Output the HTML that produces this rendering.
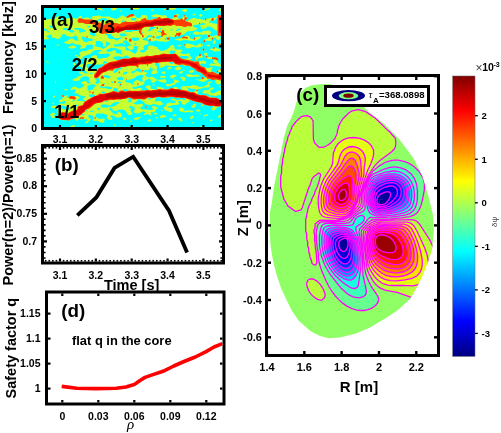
<!DOCTYPE html>
<html><head><meta charset="utf-8"><style>
html,body{margin:0;padding:0;background:#fff;}
svg{display:block;font-family:"Liberation Sans", sans-serif;will-change:transform;}
</style></head><body>
<svg width="501" height="433" viewBox="0 0 501 433">
<rect width="501" height="433" fill="#fff"/>
<defs><clipPath id="ca"><rect x="44" y="8" width="177" height="119"/></clipPath></defs>
<g clip-path="url(#ca)">
<rect x="44" y="8" width="177" height="119" fill="#00ffff"/>
<path d="M103.2 10.5 101.8 10.3 100.2 9.7 98.8 9.3 97.8 8.8 97.7 8.2 99.2 7.9 101.2 8.2 103.4 10.2 103.2 10.5ZM114.2 10.3 112.8 10.5 111.8 10.3 111.2 9.8 111.1 9.2 111.2 8.4 112.2 7.9 115.8 7.9 116.6 8.2 116.8 8.8 116.6 9.2 115.8 9.8 114.2 10.3ZM138.8 9.3 137.8 9.5 134.8 9.4 133.2 8.9 130.2 8.8 129.7 8.2 130.8 8.0 138.2 7.9 139.0 8.2 139.1 8.8 138.8 9.3ZM172.8 9.8 171.2 10.0 170.2 9.8 169.7 9.2 169.8 8.5 170.2 8.0 170.8 7.9 174.8 7.9 175.9 8.2 176.0 8.8 175.4 9.2 172.8 9.8ZM205.8 10.8 204.8 10.9 204.2 10.8 203.9 10.2 204.0 9.8 206.2 9.2 207.8 8.0 209.2 8.0 209.7 8.2 209.8 8.8 209.2 9.3 207.2 9.8 205.8 10.8ZM220.2 11.4 219.4 11.2 219.1 10.2 219.7 8.8 220.2 8.3 221.0 8.8 221.1 9.8 221.0 10.8 220.2 11.4ZM164.2 10.4 163.6 10.2 163.0 9.8 163.1 9.2 163.8 9.1 164.8 9.3 165.0 9.8 164.8 10.2 164.2 10.4ZM186.2 11.8 184.8 12.0 182.8 11.3 181.9 10.8 181.8 10.2 182.2 9.7 183.8 9.2 186.2 9.1 186.8 9.4 187.0 10.2 186.8 11.2 186.2 11.8ZM153.2 10.8 151.8 10.9 151.2 10.8 150.9 10.2 151.2 9.8 151.8 9.6 153.8 9.7 154.0 10.2 153.2 10.8ZM120.8 11.8 120.1 11.2 120.2 10.5 120.8 10.2 121.4 10.8 121.2 11.5 120.8 11.8ZM196.2 15.3 194.8 15.1 193.2 15.4 192.7 15.2 192.3 14.8 192.8 14.1 194.2 13.6 196.3 14.8 196.2 15.3ZM86.8 123.3 85.2 123.3 84.8 122.8 84.9 122.2 87.2 121.1 87.6 120.8 87.6 120.2 87.1 119.8 85.2 119.1 81.2 119.5 80.2 119.3 79.2 118.7 78.8 118.6 77.2 120.7 76.8 120.8 76.2 120.7 75.2 119.1 74.2 118.5 72.2 118.7 68.8 120.5 67.2 120.5 65.8 120.1 63.8 120.4 59.2 119.3 58.7 118.8 58.0 116.8 58.0 115.8 58.6 114.2 57.6 111.8 57.7 111.2 58.3 110.2 57.9 109.8 54.8 108.2 51.2 107.8 50.8 107.2 50.8 106.8 51.2 106.2 52.2 105.7 55.2 105.5 56.2 106.0 58.2 107.8 59.8 108.3 62.8 108.7 66.2 110.0 67.8 110.0 69.7 109.2 70.0 108.8 69.7 108.2 68.8 107.8 67.2 106.7 62.8 105.5 59.8 105.5 58.5 104.8 58.5 104.2 58.8 104.0 59.8 103.5 61.8 103.5 63.2 104.0 64.2 103.8 65.2 103.0 65.7 102.2 65.7 101.8 65.2 101.2 64.8 101.1 61.2 102.0 59.8 102.0 59.2 101.8 58.8 101.2 58.8 100.8 59.2 100.2 61.8 99.1 62.8 98.2 62.9 97.2 62.1 96.2 62.2 95.4 62.8 95.1 63.6 95.2 64.2 96.0 64.8 96.2 67.2 95.2 67.8 95.2 68.0 95.8 66.8 96.7 66.5 97.2 66.8 97.7 67.2 97.9 68.1 97.8 69.2 96.6 70.8 96.0 72.8 96.0 74.2 96.3 77.8 96.0 79.0 96.8 79.5 97.8 79.6 98.2 79.2 98.8 76.5 99.8 76.3 100.2 78.8 101.0 82.2 101.0 83.8 101.5 84.7 101.2 85.0 100.8 84.8 100.2 82.8 99.4 82.5 98.8 82.8 98.2 84.8 97.7 85.0 97.2 84.8 96.6 84.2 96.2 82.2 95.7 79.8 95.3 77.2 93.7 74.7 93.2 74.5 92.8 74.7 92.2 76.2 90.2 75.8 89.4 74.8 89.2 71.2 89.9 70.8 89.7 70.5 89.2 70.6 88.8 71.8 87.5 74.2 86.2 75.2 86.2 77.2 88.0 78.8 88.5 80.2 88.3 83.2 86.6 83.8 86.2 84.0 85.8 83.9 85.2 82.8 84.0 81.2 83.2 80.8 82.8 81.1 82.2 83.2 81.2 84.8 80.7 85.8 80.9 86.8 81.7 87.3 82.8 88.8 83.5 89.8 83.5 90.2 83.3 90.5 82.8 90.2 82.1 88.7 80.8 88.7 79.8 89.2 78.8 89.1 77.8 88.2 76.9 87.2 76.5 84.2 76.2 81.2 77.4 80.3 78.2 80.2 79.8 79.8 80.2 78.2 80.8 73.8 81.0 72.7 80.2 72.5 79.8 72.8 79.2 76.2 77.9 78.8 76.2 82.5 75.2 82.4 74.8 79.8 73.8 78.9 73.2 78.7 72.8 79.2 72.0 80.8 71.5 81.8 71.5 84.8 73.5 86.2 73.4 86.8 73.2 87.0 72.8 86.5 71.8 84.2 69.8 83.2 68.0 81.8 67.2 79.8 66.8 78.8 66.3 78.3 65.8 78.5 65.2 81.2 64.2 85.6 63.2 85.9 62.8 86.2 60.8 87.0 59.2 88.2 58.5 90.7 58.2 91.0 57.8 91.0 56.8 91.2 56.3 92.8 55.7 95.2 55.1 96.2 55.2 96.8 55.8 97.2 57.8 97.8 58.3 101.2 58.4 102.8 58.0 105.2 58.0 107.8 57.3 110.2 55.2 110.2 54.5 109.2 53.7 108.2 53.5 105.8 53.5 103.8 54.0 99.8 53.8 98.4 53.2 98.2 52.8 98.8 52.1 101.1 51.2 101.3 50.8 101.0 50.2 100.2 50.0 95.8 50.0 92.2 51.7 90.8 53.5 89.8 54.1 86.2 55.2 82.8 56.7 82.4 57.2 82.5 58.2 82.2 58.8 80.2 59.0 78.8 58.6 78.2 58.2 77.4 56.8 75.2 55.8 74.8 55.4 75.0 54.8 75.8 54.7 77.2 55.2 78.8 56.3 79.8 56.4 80.2 55.8 79.7 54.2 79.6 53.2 80.1 52.2 82.2 51.2 85.8 51.0 89.2 49.5 92.2 49.2 92.6 48.8 92.7 46.8 93.4 45.8 93.4 45.2 90.8 44.5 87.2 44.7 86.1 45.8 85.9 47.2 85.6 47.8 82.8 48.2 80.8 49.1 80.2 48.8 80.0 48.2 80.9 46.8 81.1 46.2 80.9 45.8 79.2 44.7 75.2 44.4 73.8 43.2 72.8 43.0 71.2 43.2 69.8 44.1 68.8 44.3 66.2 43.8 64.8 43.3 64.3 42.8 64.3 42.2 64.8 41.7 67.8 40.8 69.7 38.8 70.8 38.4 71.8 38.4 72.8 38.7 76.2 40.8 77.8 40.8 78.3 40.2 78.3 39.2 76.2 35.6 75.8 35.3 74.8 35.7 72.8 36.8 70.8 37.0 68.2 36.2 66.8 35.9 66.2 35.6 65.2 34.2 63.2 34.0 62.2 34.8 60.2 38.0 58.8 38.8 57.8 39.0 56.8 38.8 53.8 37.6 51.8 37.7 51.6 37.2 52.3 35.8 52.2 35.2 50.2 34.6 46.5 36.2 46.3 36.8 49.1 38.2 49.0 38.8 47.2 39.5 45.2 39.5 44.4 39.2 43.9 38.2 44.0 31.2 44.4 30.8 45.2 30.5 46.8 31.1 48.2 32.3 48.9 32.2 49.2 31.8 48.3 30.8 47.2 30.2 45.8 28.9 44.4 28.2 44.0 27.8 43.9 20.8 44.4 19.8 48.8 19.0 50.8 19.0 52.2 19.5 53.8 19.3 55.2 18.5 56.8 16.7 58.2 16.1 58.8 16.2 59.0 16.8 58.6 18.2 58.8 18.8 59.8 19.6 61.2 20.0 62.8 19.8 65.2 18.7 67.2 18.5 70.2 17.5 71.8 17.6 75.2 18.5 77.8 18.5 78.3 18.2 78.8 16.8 79.8 16.1 80.8 15.9 81.2 16.1 81.8 16.8 81.8 18.2 82.2 18.7 82.8 18.7 83.8 18.2 86.2 17.5 87.8 17.5 88.8 17.7 90.2 18.8 90.8 18.9 91.5 18.2 91.8 17.1 92.2 16.6 93.8 16.0 95.8 16.0 98.2 15.5 99.8 15.7 102.2 16.5 109.2 16.5 111.8 17.8 113.2 18.3 116.2 18.7 118.2 17.9 121.8 15.5 122.8 15.4 123.8 15.7 124.8 17.1 125.2 17.3 128.8 15.3 130.2 14.2 132.2 14.0 134.0 14.2 134.5 15.8 135.8 16.6 136.8 17.7 137.8 18.0 139.2 18.0 140.8 17.3 142.2 15.1 145.8 15.2 147.0 15.8 147.2 16.2 147.2 17.8 147.5 19.2 148.2 19.8 149.8 20.0 150.8 19.8 151.8 19.1 152.8 18.7 154.2 18.8 157.0 18.2 157.1 17.8 156.8 17.2 152.8 17.0 151.1 16.2 151.2 15.7 154.2 14.5 155.8 14.3 157.8 14.5 161.8 15.5 164.8 15.1 166.3 15.8 166.7 16.2 166.8 17.8 170.8 18.9 172.8 18.3 173.6 17.8 173.6 16.2 174.2 15.2 176.8 14.1 177.2 14.1 179.8 14.8 179.8 15.3 177.8 15.4 176.9 17.2 180.2 19.6 180.6 19.2 180.8 18.2 182.2 17.8 183.1 17.2 183.8 16.7 184.2 15.2 184.8 14.8 185.2 14.9 186.6 16.8 187.7 17.8 187.7 18.2 186.3 19.2 185.6 20.2 185.7 20.8 186.8 21.3 187.2 21.2 188.6 19.8 189.2 19.4 193.2 18.0 195.2 18.1 197.2 18.9 199.8 18.5 202.2 19.8 203.2 20.0 204.6 19.8 205.0 19.2 205.2 18.2 205.8 17.9 206.2 18.1 206.8 19.4 207.8 19.1 209.8 18.0 212.8 17.7 215.2 18.0 215.8 18.3 215.9 19.2 215.6 19.8 212.8 20.8 210.2 20.7 209.0 21.2 208.8 21.8 209.2 22.3 212.2 23.3 214.8 23.5 216.2 23.9 217.1 23.8 217.4 23.2 217.5 19.2 217.1 18.2 216.8 18.1 215.8 18.2 215.4 17.8 215.5 17.2 215.8 16.9 217.2 16.5 217.8 15.4 218.2 15.1 219.8 15.0 220.8 15.4 221.0 15.8 221.1 16.8 221.1 34.8 220.6 35.8 218.9 36.2 218.9 36.8 220.6 37.8 220.9 38.2 220.7 38.8 219.8 39.3 217.8 40.0 216.8 39.8 215.8 38.0 214.8 37.4 213.8 37.2 213.3 37.8 213.2 38.8 212.0 39.8 211.2 40.8 209.2 41.0 206.2 40.5 205.8 40.7 205.2 41.8 204.2 42.2 203.8 42.2 203.4 41.8 203.4 41.2 204.2 39.6 205.8 38.7 207.8 38.4 208.2 38.0 208.3 37.2 207.8 36.2 207.7 34.8 206.8 34.5 204.2 34.5 201.8 35.0 199.8 34.5 198.2 34.5 196.2 34.9 192.9 33.8 192.8 33.2 193.2 32.5 195.2 31.5 197.2 31.5 199.2 32.3 200.2 32.4 203.2 31.0 208.2 30.5 209.2 30.7 210.2 31.2 211.2 32.2 211.2 32.8 210.8 33.2 209.6 34.2 209.6 34.8 210.0 35.2 211.2 36.5 212.2 36.5 213.8 35.6 216.8 35.4 217.2 35.1 217.5 33.8 217.3 31.2 216.8 30.7 214.2 29.5 212.2 27.5 209.2 26.5 207.2 26.6 206.8 26.8 206.2 27.9 205.8 28.3 204.2 28.4 202.2 29.2 201.8 29.0 201.3 27.8 200.2 26.3 200.1 25.8 200.4 25.2 200.8 25.0 203.8 25.0 204.5 24.8 204.7 24.2 204.5 23.2 204.0 22.8 203.2 22.7 200.2 24.0 198.8 24.2 197.2 24.8 193.8 25.1 193.2 25.3 193.0 25.8 193.1 26.2 193.6 26.8 194.8 27.3 196.2 27.7 197.1 28.2 197.2 28.8 196.8 29.2 194.8 30.4 192.2 31.0 187.8 31.2 186.8 31.8 185.9 32.8 183.2 34.8 180.8 35.1 179.2 36.4 178.4 36.2 177.8 35.4 177.2 35.2 176.8 35.4 175.8 36.8 175.2 36.9 171.8 37.0 169.8 36.6 168.8 36.8 168.8 37.2 169.8 38.2 169.7 39.2 168.8 40.9 166.2 41.8 165.2 41.9 163.2 41.5 158.8 41.5 157.2 40.7 156.2 40.5 152.8 41.5 150.2 41.3 148.2 40.1 147.2 38.8 147.2 38.2 148.2 37.6 151.8 36.8 152.3 36.2 152.4 35.8 151.9 35.2 151.2 35.0 148.2 35.2 147.6 36.2 145.8 37.8 143.6 38.2 142.9 38.8 142.7 39.2 142.8 39.8 143.2 40.0 146.8 40.7 147.8 41.2 148.5 42.8 148.2 44.1 147.8 44.4 144.7 45.2 143.3 47.2 143.3 47.8 144.0 49.2 143.8 49.7 140.2 50.6 139.9 51.2 140.2 51.8 142.2 52.4 143.2 52.3 144.7 51.8 145.6 50.8 147.2 49.8 148.2 46.6 148.8 45.8 149.2 45.6 152.2 45.5 155.2 46.8 156.8 47.1 157.2 47.3 158.5 49.2 159.6 50.2 160.8 50.8 162.2 51.0 164.8 50.3 167.2 48.9 168.9 47.8 170.2 46.0 171.2 45.2 172.2 45.0 173.2 45.2 173.8 45.8 174.3 46.8 174.3 48.2 175.2 49.1 176.2 49.5 181.8 49.5 182.5 49.8 182.7 50.2 182.4 50.8 180.4 52.2 180.3 52.8 180.8 53.3 183.2 54.0 185.2 54.0 188.2 53.3 189.4 53.8 189.8 54.2 190.2 56.2 191.8 57.7 191.9 58.2 191.6 58.8 190.2 59.2 189.9 59.8 190.2 60.3 194.2 61.5 195.8 61.4 196.8 60.9 198.2 61.5 199.2 61.5 202.2 60.6 205.2 60.9 205.7 61.2 206.4 62.8 205.8 63.6 204.2 64.0 202.2 63.6 201.2 63.7 200.2 64.2 200.2 65.2 201.2 66.3 203.2 67.0 205.2 67.2 206.8 68.0 208.8 68.0 211.2 67.1 212.2 67.2 212.7 67.8 212.7 68.2 211.1 69.8 211.0 70.2 211.2 70.8 212.8 71.8 216.8 73.6 219.8 73.5 220.6 73.8 221.1 74.8 221.1 79.2 220.6 80.8 221.1 82.2 220.8 83.2 220.3 83.8 218.2 84.4 217.2 84.1 216.0 83.2 215.2 82.3 215.1 81.8 215.2 81.2 216.2 80.2 216.2 79.8 214.8 79.6 213.2 80.0 212.2 80.0 209.8 78.6 208.8 78.9 204.8 81.4 203.2 81.9 202.2 81.8 196.8 80.0 196.4 79.8 196.8 79.2 198.8 79.6 200.8 79.3 201.3 78.8 201.8 77.4 202.2 77.1 203.2 77.2 204.2 78.0 204.8 78.1 205.8 77.9 206.2 77.2 205.8 76.7 203.6 75.2 201.8 73.2 197.2 71.6 194.4 68.8 189.2 65.7 186.8 65.6 184.8 65.9 181.8 64.7 178.8 65.2 177.8 66.2 180.2 66.9 181.2 67.6 181.6 68.2 181.4 68.8 180.8 69.3 177.2 70.4 175.2 69.8 174.8 69.2 174.8 68.8 175.2 68.0 177.7 66.2 175.2 66.0 169.2 66.1 167.2 65.5 165.8 65.5 162.8 67.3 160.2 67.9 159.8 67.8 159.2 67.2 159.1 66.8 159.4 65.2 158.8 63.6 157.8 63.0 156.2 63.0 155.2 63.2 154.6 63.8 154.8 64.2 156.8 66.2 157.0 68.2 156.4 69.8 156.7 70.8 157.8 72.2 157.7 72.8 154.8 74.0 152.2 74.0 151.4 73.8 151.1 73.2 151.2 72.2 152.7 70.8 152.5 69.8 152.6 68.8 151.2 67.9 150.2 67.6 149.8 67.9 149.0 69.8 148.2 70.3 147.8 70.4 145.8 70.0 144.2 70.2 143.8 71.2 144.0 71.8 146.2 72.2 147.1 72.8 147.2 73.2 145.5 74.8 145.0 75.8 146.2 76.6 148.8 77.5 149.8 77.4 151.2 76.6 152.8 77.0 157.2 79.7 162.8 79.4 164.2 79.0 164.8 79.2 166.5 80.8 166.6 81.2 165.8 82.4 164.8 82.9 161.2 82.3 159.2 81.3 157.2 79.9 157.0 80.2 155.3 81.2 153.8 82.8 152.8 83.0 151.5 82.2 150.3 79.2 149.2 78.5 144.8 80.8 144.5 81.2 144.3 83.8 143.2 84.8 141.8 85.5 138.8 85.7 135.8 87.0 132.8 87.1 132.4 87.2 132.4 87.8 133.8 88.8 134.8 89.0 137.8 88.0 141.2 88.1 141.8 88.2 142.1 88.8 141.3 89.8 141.3 90.2 142.8 90.5 145.2 90.5 148.2 89.8 148.5 89.2 146.1 87.8 145.8 86.8 146.1 86.2 147.2 85.5 149.8 85.5 150.8 86.0 150.6 87.8 150.7 88.2 151.2 88.8 153.8 89.0 155.2 89.7 157.2 89.3 157.6 88.8 156.5 87.2 156.8 86.8 157.2 86.6 161.2 87.2 163.2 88.2 164.4 89.2 165.8 89.5 168.8 89.3 170.2 88.5 173.2 87.8 175.2 86.8 175.8 86.8 177.7 87.8 178.8 88.9 180.8 89.8 181.8 89.9 182.4 89.8 182.5 89.2 180.6 87.8 180.8 87.2 182.8 86.2 190.2 86.0 192.2 85.2 193.2 85.0 197.2 85.7 199.2 87.0 200.8 87.0 203.2 86.5 205.8 85.5 208.2 83.8 207.8 82.8 208.2 82.2 209.1 81.8 210.2 81.6 212.2 81.8 212.5 82.2 212.2 82.6 210.8 82.6 208.3 83.8 209.8 85.2 209.8 86.2 209.2 86.9 207.8 87.5 203.8 87.5 200.8 88.8 198.0 89.2 197.8 89.8 198.2 92.2 197.3 93.8 197.8 94.4 199.8 95.0 205.2 95.0 208.2 96.3 209.8 96.7 211.2 97.5 215.8 97.5 217.8 98.2 220.7 100.2 221.0 100.8 221.1 105.2 220.6 106.2 217.9 106.8 214.8 110.0 213.8 110.5 212.8 110.5 211.8 109.8 211.6 108.8 212.1 107.8 213.6 106.8 213.6 106.2 213.2 106.1 210.2 106.0 208.8 105.5 206.2 105.3 204.6 104.8 202.4 103.2 200.8 102.7 197.8 102.3 192.2 100.8 189.8 99.8 189.3 100.2 189.4 101.2 189.2 101.8 188.2 102.3 186.8 102.7 185.9 104.2 184.8 104.8 184.2 104.8 182.2 104.2 181.8 103.8 181.9 102.2 181.2 101.4 180.2 101.0 178.8 101.0 178.2 101.2 178.0 101.8 179.2 103.2 179.2 103.8 178.8 104.3 176.8 105.0 173.2 105.0 170.2 106.0 167.4 106.2 167.2 106.8 167.8 107.3 171.8 108.2 172.6 108.8 172.7 109.2 172.2 111.6 171.8 111.9 170.2 112.0 165.2 110.3 164.0 108.8 163.6 107.8 163.8 107.2 165.8 105.9 166.7 103.8 167.2 103.2 169.8 102.5 172.2 103.0 173.8 103.0 175.2 102.4 175.9 101.8 175.8 101.2 175.2 100.7 172.8 100.5 171.2 99.9 170.8 99.2 171.2 98.8 172.2 98.5 174.2 98.5 176.2 99.8 177.2 100.0 181.8 99.2 184.8 100.1 185.5 99.8 185.5 99.2 184.8 98.5 183.8 98.1 181.2 98.1 178.8 97.5 176.8 97.8 173.2 97.1 170.2 97.0 168.2 97.8 167.2 98.0 165.2 97.5 161.2 97.5 159.2 97.0 157.2 97.0 156.2 97.7 155.8 98.8 154.7 100.2 154.8 101.2 155.2 101.6 155.8 101.6 158.8 101.0 160.2 101.1 162.8 103.2 162.8 104.2 162.2 104.8 159.2 105.4 154.2 104.0 152.8 104.2 150.8 105.0 147.8 104.8 144.8 103.8 144.1 102.2 143.8 101.9 141.6 100.8 140.1 99.2 138.8 99.1 138.2 99.4 137.2 101.0 133.8 103.2 133.8 103.8 136.2 104.5 137.2 104.5 141.2 103.7 142.3 103.8 143.0 104.8 142.8 106.1 140.1 107.8 140.1 108.2 141.0 108.8 143.8 109.5 146.8 109.5 148.8 110.0 151.8 110.0 152.3 109.8 152.7 109.2 152.6 108.2 151.8 106.8 152.0 106.2 152.8 106.0 156.2 106.7 157.8 107.2 158.2 107.8 158.1 108.2 156.2 109.2 155.8 109.7 155.3 111.2 154.8 111.9 151.2 112.2 150.7 112.8 150.6 113.2 151.5 114.8 151.2 115.2 150.2 115.4 147.8 114.1 146.8 114.2 145.2 114.9 144.2 115.1 143.9 114.8 143.8 114.2 145.2 112.8 145.3 112.2 143.8 111.5 141.8 111.7 140.2 112.8 137.8 113.5 136.8 113.5 134.6 112.8 133.9 112.2 133.8 111.8 134.5 109.8 134.7 107.8 134.2 107.2 131.2 106.0 129.8 106.1 129.3 106.2 129.0 106.8 129.2 107.3 130.8 108.2 131.0 108.8 130.3 110.2 130.3 110.8 132.2 112.8 132.3 113.2 131.8 114.6 130.8 115.0 128.8 115.0 127.8 114.5 125.9 111.2 124.8 110.2 122.2 109.5 119.2 109.5 117.8 110.2 116.8 111.1 114.8 111.0 113.3 110.2 112.2 109.0 110.8 108.0 110.2 107.8 109.8 107.9 109.1 108.8 109.5 109.8 111.4 111.2 112.8 113.0 113.8 113.8 115.8 114.0 117.2 113.8 117.7 113.2 117.8 112.2 118.2 112.0 119.2 112.2 120.4 112.8 121.5 113.8 122.0 114.8 122.0 115.8 121.5 116.8 120.2 117.5 116.2 117.5 115.2 117.1 113.2 115.4 111.8 115.2 110.4 115.8 110.2 116.2 110.4 116.8 112.2 118.2 112.4 119.2 111.8 119.9 110.2 120.0 108.8 119.4 106.8 118.2 106.7 117.2 107.5 115.8 107.2 115.2 105.2 114.2 102.8 113.5 97.2 113.5 96.4 113.8 96.1 114.2 95.6 116.2 95.8 116.8 97.8 118.3 98.8 118.8 99.8 119.0 103.8 118.6 104.3 118.8 104.7 119.2 104.7 119.8 104.1 121.2 104.1 122.2 103.7 122.8 102.8 122.9 100.2 122.3 97.2 120.7 94.8 121.0 93.6 120.8 93.0 120.2 92.9 119.8 93.9 117.8 93.8 116.8 93.5 116.2 92.8 115.7 91.2 115.2 88.8 115.1 88.1 115.8 88.4 116.8 89.0 117.8 90.4 118.8 90.7 119.2 90.7 119.8 90.2 120.3 88.7 121.2 87.9 122.8 86.8 123.3ZM201.2 16.8 200.2 16.8 199.2 15.8 199.3 14.8 200.2 14.2 201.2 14.1 202.3 14.8 202.4 15.2 202.2 16.1 201.2 16.8ZM139.8 15.5 139.5 15.2 139.7 14.8 140.2 14.6 140.2 15.2 139.8 15.5ZM103.0 21.2 107.2 20.2 107.5 19.8 107.4 19.2 106.8 18.7 104.8 18.0 102.2 18.0 95.9 20.8 96.1 21.2 96.8 21.4 99.2 21.0 100.8 21.0 102.2 21.4 103.0 21.2ZM134.9 20.2 136.3 19.2 136.2 18.2 135.8 18.0 132.2 18.0 131.4 18.2 131.1 18.8 131.3 19.8 132.2 20.3 133.8 20.5 134.9 20.2ZM72.4 19.8 72.5 19.2 71.5 19.2 71.6 19.8 72.4 19.8ZM195.9 20.2 196.1 19.8 195.0 19.8 195.1 20.2 195.9 20.2ZM115.9 21.8 116.3 21.2 116.2 20.8 115.8 20.4 115.2 20.6 115.1 21.2 115.6 21.8 115.9 21.8ZM124.5 21.8 124.8 21.2 124.2 20.6 122.8 20.6 122.2 20.8 121.9 21.2 122.0 21.8 122.8 22.0 124.5 21.8ZM56.4 27.8 56.5 27.2 55.8 26.7 53.8 26.3 51.2 25.6 50.2 25.7 49.4 26.2 49.3 26.8 49.7 27.2 50.2 27.4 53.2 28.0 56.4 27.8ZM90.0 27.2 90.1 26.8 89.8 26.2 89.2 26.1 87.8 26.1 87.2 26.8 87.8 27.4 89.2 27.5 90.0 27.2ZM149.9 31.2 150.7 30.8 151.8 29.2 155.8 28.3 156.0 27.8 155.2 27.2 152.8 26.5 150.8 26.7 150.2 27.2 149.7 28.8 148.2 30.2 148.1 30.8 148.6 31.2 149.2 31.4 149.9 31.2ZM185.9 27.8 186.2 27.2 185.8 27.0 184.5 27.2 184.8 27.8 185.9 27.8ZM74.1 32.2 74.4 31.8 74.3 31.2 73.4 30.2 70.8 29.8 69.2 28.7 67.8 28.2 64.2 28.1 63.2 28.8 63.1 29.2 63.4 29.8 67.2 30.2 68.2 30.8 69.8 32.3 72.8 32.5 74.1 32.2ZM82.0 32.2 85.2 31.2 85.5 30.8 85.3 30.2 80.2 28.0 75.2 28.1 74.7 28.2 74.3 28.8 74.8 29.4 77.8 29.5 78.8 29.7 79.1 30.2 79.1 31.8 79.8 32.4 81.2 32.5 82.0 32.2ZM160.8 29.2 161.5 28.8 161.4 28.2 160.8 28.1 159.8 28.2 159.8 28.8 160.2 29.2 160.8 29.2ZM178.0 30.8 180.3 29.8 180.7 29.2 180.5 28.8 179.8 28.5 178.2 28.7 177.1 29.2 176.0 30.2 176.2 30.8 177.2 30.9 178.0 30.8ZM172.6 30.2 172.6 29.8 171.8 29.2 171.2 29.2 170.3 29.8 170.8 30.4 172.6 30.2ZM130.5 31.8 133.8 30.9 138.2 30.9 138.6 30.2 138.2 29.8 137.8 29.8 136.8 30.1 134.8 30.1 132.2 29.6 127.8 30.5 125.8 30.1 124.8 30.2 124.8 30.5 125.0 31.2 126.2 31.9 129.2 32.0 130.5 31.8ZM160.3 32.2 161.5 31.8 161.6 31.2 161.2 30.8 159.8 30.9 158.8 30.5 157.8 30.8 157.7 31.2 158.2 31.8 160.3 32.2ZM95.2 35.8 95.5 35.2 94.8 32.8 93.8 31.8 91.8 31.2 90.8 31.7 90.2 32.2 89.6 33.8 89.7 34.2 90.2 34.8 93.2 36.0 95.2 35.8ZM142.7 32.8 142.8 32.2 142.6 31.8 141.8 31.5 141.3 31.8 141.3 32.2 141.8 32.9 142.2 33.0 142.7 32.8ZM117.4 40.2 120.8 38.5 121.1 38.2 121.2 37.5 120.8 37.2 118.2 38.0 114.8 38.3 113.4 36.8 111.7 35.8 111.3 35.2 111.2 34.2 110.8 33.7 108.8 34.0 107.2 34.0 105.8 33.6 104.9 33.8 105.0 34.2 106.8 35.1 107.5 35.8 108.2 37.8 109.2 38.6 110.2 39.0 113.8 39.1 116.2 40.4 117.4 40.2ZM124.0 36.2 126.2 35.8 126.7 35.2 126.7 34.8 126.2 34.2 124.8 33.5 120.8 33.5 120.2 33.6 119.8 34.0 119.8 34.8 121.2 36.6 124.0 36.2ZM190.2 34.8 189.6 34.8 189.4 34.2 189.8 33.8 191.1 33.8 191.1 34.2 190.2 34.8ZM76.3 34.2 76.3 34.2ZM158.8 38.8 160.9 37.2 160.8 35.7 160.2 35.5 159.2 35.7 155.8 36.8 155.5 37.2 155.6 37.8 156.1 38.2 157.2 38.8 158.2 38.9 158.8 38.8ZM194.8 40.8 191.8 41.0 190.2 40.5 188.2 40.5 186.8 40.1 185.2 40.3 183.2 40.0 180.2 41.0 179.2 40.8 177.2 40.0 174.8 40.3 174.5 39.8 175.2 39.2 178.8 38.2 181.8 37.9 182.8 36.7 184.2 36.4 185.3 35.8 186.2 35.5 187.8 35.7 188.8 36.1 190.3 38.2 191.2 38.8 192.2 39.1 192.8 39.0 193.9 37.8 195.2 37.6 197.2 36.7 199.8 36.5 200.2 36.6 200.8 37.0 200.8 37.8 199.8 38.8 197.8 39.8 194.8 40.8ZM86.4 42.2 88.8 41.2 92.2 40.8 92.9 40.2 93.0 39.8 92.7 39.2 91.8 38.7 88.2 38.3 82.8 36.4 82.2 36.4 81.8 36.8 81.7 37.8 83.5 41.2 85.2 42.3 86.4 42.2ZM166.4 39.8 167.0 38.2 167.8 37.4 168.2 37.2 167.8 36.9 166.2 37.2 165.2 38.2 165.1 38.8 165.2 39.5 165.8 39.9 166.4 39.8ZM136.5 40.8 138.2 40.3 138.8 39.8 139.0 38.2 138.4 37.8 137.2 37.5 133.2 37.5 132.2 37.7 131.5 38.2 131.4 38.8 132.2 40.3 134.8 41.0 136.5 40.8ZM210.8 38.8 211.0 38.2 210.8 38.1 210.5 38.2 210.8 38.8ZM135.0 53.8 135.8 53.2 137.2 50.8 137.3 49.2 138.2 47.8 138.2 47.2 137.8 46.7 136.2 46.1 135.2 45.9 134.2 46.0 133.6 46.8 133.9 48.2 133.3 49.2 131.2 50.0 130.2 50.0 126.7 47.2 126.7 46.8 127.8 46.2 129.9 45.8 130.6 45.2 130.7 44.8 130.0 43.8 126.2 40.2 125.2 40.2 123.8 41.0 123.3 41.8 123.2 43.2 121.8 43.0 116.8 44.5 114.2 44.6 113.8 45.2 114.2 46.2 115.2 46.6 124.2 46.5 125.4 46.8 125.9 47.2 125.6 48.2 125.7 49.2 126.2 50.2 127.2 50.5 129.8 50.5 131.8 52.3 134.2 53.6 135.0 53.8ZM103.3 48.8 104.4 48.2 107.8 45.7 109.8 44.6 110.3 43.8 110.2 43.2 109.2 42.7 106.8 41.7 106.0 41.8 105.6 42.2 106.0 44.2 105.8 45.5 105.2 46.2 103.8 46.8 103.2 46.7 102.9 46.2 103.0 43.8 102.5 42.8 101.8 42.1 100.2 41.2 98.2 40.7 95.9 41.2 95.6 41.8 96.1 43.8 95.8 44.4 94.6 45.2 94.8 45.8 96.8 46.8 101.2 47.6 102.8 48.7 103.3 48.8ZM214.8 43.8 213.2 43.9 212.8 43.2 213.5 40.8 215.2 40.3 215.8 40.4 215.8 40.8 215.3 43.2 214.8 43.8ZM124.8 44.5 124.1 44.2 123.3 43.2 123.8 43.0 124.8 43.2 125.2 43.8 125.1 44.2 124.8 44.5ZM135.5 44.8 136.3 44.2 136.5 43.8 136.2 43.2 135.2 43.2 134.4 43.8 134.2 44.2 134.5 44.8 134.8 44.9 135.5 44.8ZM189.2 48.3 187.2 48.5 185.8 47.8 185.2 47.2 184.3 45.2 184.3 44.8 184.8 44.3 185.8 44.0 186.8 43.3 187.2 43.2 193.2 44.7 194.8 45.5 197.2 45.3 198.8 44.0 199.8 43.5 201.8 43.6 202.2 43.8 202.8 44.8 202.8 45.8 202.4 46.2 200.2 47.3 196.8 47.5 194.8 47.0 193.2 47.0 189.2 48.3ZM219.8 45.3 219.0 45.2 218.6 44.8 218.8 43.9 219.2 43.6 220.2 43.6 220.9 44.2 220.7 44.8 219.8 45.3ZM58.2 45.8 57.2 45.8 56.8 45.3 56.6 44.8 57.0 44.2 57.8 44.2 58.9 44.8 59.0 45.2 58.2 45.8ZM209.2 46.4 207.8 46.5 206.8 46.3 206.3 45.8 206.4 45.2 207.8 44.5 209.7 44.8 210.1 45.2 210.0 45.8 209.2 46.4ZM180.2 46.3 179.2 46.4 177.5 46.2 177.6 45.8 179.2 45.2 180.2 45.1 181.1 45.2 181.3 45.8 180.2 46.3ZM74.2 48.3 71.2 48.5 68.8 47.9 68.4 47.2 68.8 46.7 70.2 46.2 72.2 45.5 73.2 45.5 75.2 46.2 76.2 46.8 76.3 47.2 75.9 47.8 74.2 48.3ZM218.8 51.3 214.2 51.5 213.7 51.2 212.2 50.2 210.2 49.8 210.0 49.2 210.2 48.8 210.8 48.6 212.8 48.7 213.2 47.5 213.8 47.1 214.2 47.2 215.8 48.1 217.2 48.2 218.8 48.7 220.3 49.8 220.5 50.2 220.2 50.8 218.8 51.3ZM44.8 49.8 44.2 49.7 43.9 48.8 44.2 48.0 44.8 47.9 45.2 48.2 45.4 48.8 45.3 49.2 44.8 49.8ZM121.8 54.8 122.5 54.2 122.4 53.8 121.0 53.2 121.4 51.2 121.2 50.2 120.2 49.7 115.2 48.1 110.8 48.0 106.8 49.7 106.3 50.2 106.6 51.2 107.2 51.8 108.8 52.0 109.8 51.8 113.8 50.2 115.2 50.1 115.7 50.8 115.6 52.2 115.9 52.8 117.8 53.5 120.2 53.6 121.0 54.8 121.8 54.8ZM203.2 51.3 202.6 50.8 202.5 49.8 202.9 48.8 203.8 48.2 204.4 48.8 204.4 50.2 204.2 50.8 203.8 51.2 203.2 51.3ZM153.8 51.2 153.9 50.8 153.8 50.6 153.2 50.5 152.7 50.8 153.0 51.2 153.8 51.2ZM173.4 53.8 175.7 51.8 175.6 51.2 174.2 50.7 173.2 50.5 170.8 50.6 170.2 50.9 169.8 53.2 170.0 53.8 171.8 54.0 173.4 53.8ZM220.2 66.4 217.2 66.5 214.8 65.5 211.8 66.1 210.8 65.9 209.7 65.2 209.3 64.8 209.5 64.2 211.4 63.2 212.2 63.3 213.2 63.9 214.5 63.8 214.7 63.2 213.2 61.9 212.9 61.2 213.2 60.5 214.6 59.8 214.4 59.2 212.8 59.3 211.2 59.0 208.2 59.0 206.8 58.3 206.2 57.8 205.9 55.8 204.8 55.2 204.2 54.4 204.1 53.8 204.2 53.2 204.8 52.7 205.8 52.6 207.2 53.2 207.4 53.8 207.7 56.2 208.2 56.9 211.8 57.0 213.8 57.5 215.8 57.4 217.2 58.0 218.2 59.2 218.2 59.8 217.2 60.8 217.2 61.2 217.8 62.4 220.7 64.8 221.0 65.2 221.0 65.8 220.2 66.4ZM196.8 60.5 195.8 59.9 195.4 59.2 195.9 57.2 196.8 56.4 198.6 55.8 199.2 54.2 199.8 53.8 200.2 53.8 200.8 54.2 201.4 55.8 202.8 56.3 203.0 56.8 202.8 57.2 200.8 58.0 197.8 58.2 197.4 58.8 197.2 59.8 196.8 60.5ZM119.0 59.8 123.8 58.5 128.8 58.4 129.3 58.2 129.6 57.8 127.8 55.8 126.8 55.5 125.8 55.7 122.8 56.9 120.8 56.5 115.2 56.5 112.9 57.2 112.7 57.8 113.1 58.2 114.2 58.7 116.2 60.1 117.2 60.2 119.0 59.8ZM185.0 58.8 188.2 58.3 188.7 57.8 188.7 57.2 188.2 56.5 187.2 56.0 180.8 56.0 179.3 56.2 179.4 56.8 181.1 58.2 182.1 58.8 183.8 59.0 185.0 58.8ZM95.8 60.8 95.8 60.2 95.2 60.2 95.2 60.8 95.8 60.8ZM45.2 61.1 44.7 60.8 45.6 60.8 45.2 61.1ZM48.2 62.9 47.2 62.8 45.4 61.2 45.8 60.9 48.2 61.7 48.8 62.2 48.7 62.8 48.2 62.9ZM96.8 70.2 98.8 68.2 101.8 66.8 103.2 65.8 103.6 64.2 104.1 63.8 106.4 63.2 107.2 62.8 107.1 62.2 105.2 61.2 104.2 61.1 103.8 61.4 103.2 63.1 102.8 63.8 100.8 64.5 94.8 64.5 92.8 64.0 90.2 64.0 87.8 64.1 87.2 64.2 86.7 64.8 86.4 66.2 86.9 67.2 87.8 68.1 88.8 68.5 91.2 68.7 94.8 70.5 96.8 70.2ZM172.8 63.8 173.4 63.2 173.6 62.8 173.4 62.2 172.8 61.8 168.8 62.2 168.8 62.8 170.8 63.8 171.8 64.0 172.8 63.8ZM75.2 65.3 74.2 65.6 73.2 65.1 73.1 63.2 73.2 62.7 73.8 62.3 74.2 62.4 75.7 64.2 75.7 64.8 75.2 65.3ZM74.2 70.0 73.8 70.1 72.8 69.8 72.4 69.2 72.4 68.8 73.0 67.2 74.2 66.5 75.2 66.9 75.9 67.8 75.5 68.8 74.2 70.0ZM114.9 72.8 117.2 71.8 118.0 71.2 118.4 70.8 118.4 69.8 118.8 69.2 119.8 69.8 120.2 69.8 122.5 67.8 122.4 67.2 121.2 67.1 118.8 68.0 115.2 68.7 114.5 70.2 113.3 71.8 113.3 72.2 113.8 72.8 114.9 72.8ZM169.2 69.3 168.2 69.4 167.7 69.2 167.2 68.8 167.1 68.2 167.3 67.8 168.8 67.0 170.2 66.9 171.2 67.2 171.7 67.8 171.6 68.2 170.8 68.8 169.2 69.3ZM132.9 73.2 134.8 72.3 136.1 71.2 136.8 71.1 138.8 71.7 140.2 72.4 141.2 72.3 142.1 71.8 141.4 70.2 140.2 69.0 138.8 68.2 137.8 68.2 136.2 69.0 134.8 70.6 132.2 71.2 131.6 71.8 131.3 72.8 131.7 73.2 132.2 73.4 132.9 73.2ZM126.8 69.2 126.8 68.7 125.5 68.8 125.8 69.3 126.8 69.2ZM217.8 72.3 217.2 72.2 216.8 71.8 216.8 71.2 217.2 70.8 218.2 70.3 220.2 68.7 220.8 68.8 221.0 69.2 221.1 70.2 221.0 71.2 220.8 71.6 220.2 71.9 218.8 71.9 217.8 72.3ZM155.2 69.8 154.8 69.2 154.2 69.3 154.1 69.8 154.2 69.9 155.2 69.8ZM184.2 70.8 183.2 70.9 183.1 70.8 183.2 70.0 183.8 69.6 185.1 69.8 185.3 70.2 184.2 70.8ZM191.8 72.8 190.8 73.0 189.8 72.8 188.9 71.8 188.7 71.2 188.8 70.8 190.8 70.0 192.8 70.0 193.8 70.2 194.2 70.8 193.9 71.8 193.2 72.3 191.8 72.8ZM164.8 73.9 163.8 73.8 162.2 73.3 161.6 72.8 161.7 72.2 162.2 71.7 163.8 71.2 164.8 71.4 165.2 71.9 165.5 72.8 165.2 73.6 164.8 73.9ZM181.8 73.3 179.8 73.4 179.2 73.0 179.2 72.2 180.2 71.5 181.8 71.0 182.8 71.0 183.0 71.2 182.9 72.2 182.7 72.8 181.8 73.3ZM125.5 74.2 127.3 73.2 127.5 72.8 127.3 72.2 126.2 71.7 125.2 71.7 124.1 72.2 123.1 73.2 122.9 73.8 123.1 74.2 123.8 74.6 125.5 74.2ZM92.5 73.8 92.8 73.2 92.2 72.6 90.8 72.6 90.3 72.8 90.0 73.2 90.3 73.8 90.8 73.9 92.5 73.8ZM197.8 76.8 196.8 76.9 194.8 76.5 192.8 77.0 188.8 77.0 186.8 76.3 186.1 75.8 186.0 75.2 186.3 74.8 186.8 74.5 189.2 74.0 193.2 75.0 194.2 75.0 196.2 74.5 200.1 75.2 200.3 75.8 199.8 76.2 197.8 76.8ZM172.8 78.4 172.2 78.5 170.8 77.8 170.4 77.2 170.1 76.2 170.8 75.4 174.2 74.5 175.2 74.7 176.6 75.8 176.6 76.2 176.2 76.5 175.2 76.7 172.8 78.4ZM108.9 78.2 110.6 77.2 110.7 76.8 110.2 76.2 106.2 75.0 104.2 75.2 103.6 75.8 103.5 76.2 103.8 76.8 104.8 77.3 107.8 78.3 108.9 78.2ZM134.0 84.8 133.2 83.2 133.3 82.8 134.0 81.8 135.8 80.2 136.8 80.0 138.2 80.2 141.2 81.8 141.8 81.8 142.8 81.2 143.0 80.8 142.1 78.8 142.2 78.2 143.7 76.2 143.7 75.8 142.8 75.2 141.2 74.9 138.8 75.2 136.2 76.6 134.8 77.8 132.8 78.8 130.8 79.2 127.2 80.3 125.8 80.1 125.2 80.3 124.9 80.8 125.2 81.7 125.8 82.0 127.2 82.5 129.2 82.7 131.8 83.7 133.2 85.2 133.8 85.1 134.0 84.8ZM150.2 75.8 149.7 75.8 149.7 75.2 150.3 75.2 150.2 75.8ZM164.8 78.0 161.2 77.8 160.0 77.2 159.8 76.8 160.2 76.2 160.8 76.1 165.2 76.1 165.7 76.8 165.2 77.7 164.8 78.0ZM120.0 80.2 122.8 79.9 123.2 79.5 123.3 78.8 122.8 77.8 121.8 76.7 120.8 76.7 117.0 77.8 116.8 78.2 116.9 78.8 117.7 79.8 119.2 80.3 120.0 80.2ZM184.2 81.3 183.8 81.3 182.8 80.8 181.8 78.8 180.2 77.8 180.3 77.2 181.8 76.6 185.3 77.8 185.7 78.2 185.8 78.8 184.9 80.8 184.2 81.3ZM97.8 83.8 99.5 82.2 99.9 81.2 98.8 78.6 98.2 78.1 97.8 78.0 95.2 78.8 95.5 79.2 96.2 79.7 96.7 80.2 96.5 81.2 95.3 82.8 95.4 83.2 96.8 84.0 97.8 83.8ZM171.8 80.0 171.4 79.8 171.8 79.4 172.0 79.8 171.8 80.0ZM169.2 86.3 167.8 86.5 166.8 86.3 166.2 85.8 165.9 84.8 166.2 84.2 166.8 84.1 170.2 84.0 173.8 82.8 174.2 82.2 174.2 81.8 173.8 80.8 173.8 80.2 174.2 79.8 174.8 79.6 176.2 79.7 179.2 81.2 179.3 81.8 178.8 82.3 176.2 82.8 174.8 84.8 172.2 85.1 171.1 85.8 169.2 86.3ZM56.2 83.4 55.8 83.6 55.3 83.2 55.1 82.8 55.1 81.2 55.8 80.4 56.3 80.8 56.0 81.8 56.2 83.4ZM113.6 82.8 113.7 82.2 113.2 81.7 112.2 81.2 111.2 81.2 111.0 81.8 111.2 82.2 111.8 82.8 112.8 83.1 113.6 82.8ZM121.3 83.2 121.3 82.2 120.2 81.5 118.8 81.5 118.2 81.8 118.0 82.2 118.2 82.9 119.2 83.6 120.8 83.6 121.3 83.2ZM185.8 82.6 185.8 82.2 185.8 82.6ZM104.9 84.2 105.1 83.8 104.8 83.3 103.6 83.2 103.4 83.8 104.9 84.2ZM154.2 85.4 152.8 85.4 152.4 84.8 152.8 84.2 153.8 84.2 154.6 84.8 154.6 85.2 154.2 85.4ZM90.0 90.2 91.8 89.8 92.9 89.2 93.3 88.8 93.9 87.2 96.0 86.2 96.2 85.8 95.8 85.2 93.8 84.5 90.8 84.5 87.8 85.7 87.4 86.2 87.6 89.8 88.2 90.4 90.0 90.2ZM121.7 86.2 122.1 85.8 121.8 85.0 120.8 85.4 119.8 85.1 119.2 85.3 119.1 85.8 119.2 86.2 119.8 86.4 121.7 86.2ZM110.4 89.2 111.8 88.8 112.1 88.2 111.8 87.6 110.8 87.0 106.8 86.5 105.2 86.6 103.8 87.0 100.8 86.1 100.2 86.2 99.7 86.8 99.9 87.2 100.2 87.4 104.8 88.0 108.2 89.0 110.4 89.2ZM220.2 87.4 219.2 87.2 218.9 86.8 219.0 86.2 219.8 86.0 220.6 86.2 220.9 86.8 220.2 87.4ZM216.8 95.8 214.2 96.0 212.2 95.5 210.8 95.5 209.2 94.9 207.8 93.8 207.2 93.5 203.2 93.4 202.5 92.8 202.4 91.8 203.2 90.8 204.8 90.2 208.2 90.0 209.1 89.8 209.7 88.2 210.2 87.7 212.8 87.6 213.3 87.8 213.7 88.2 213.7 88.8 213.3 89.2 212.2 89.8 210.8 90.2 210.2 90.8 210.2 91.8 211.2 92.8 212.8 93.3 213.8 93.3 215.8 92.3 217.2 91.2 218.8 90.5 220.2 90.6 221.0 91.2 221.1 93.8 220.8 94.6 220.2 94.9 217.8 95.2 216.8 95.8ZM118.6 91.8 118.7 91.2 117.8 89.2 117.2 88.7 116.2 88.2 114.8 88.0 113.8 88.2 113.4 88.8 113.6 90.2 114.2 91.0 117.8 92.1 118.2 92.1 118.6 91.8ZM193.8 91.8 196.0 90.2 196.4 89.8 196.3 89.2 190.8 88.6 189.8 88.1 189.2 88.1 188.2 88.5 187.8 89.2 187.7 89.8 188.2 90.9 189.8 91.8 192.8 92.0 193.8 91.8ZM67.2 90.3 65.2 90.4 64.7 90.2 64.4 89.8 64.8 89.1 66.8 89.0 67.5 89.2 67.6 89.8 67.2 90.3ZM127.0 91.2 128.2 90.8 128.6 90.2 128.2 89.7 126.2 89.0 123.8 89.2 122.7 89.8 122.5 90.2 123.2 90.8 125.2 91.5 127.0 91.2ZM44.8 91.6 44.1 91.2 44.1 90.8 44.8 90.4 45.2 90.8 45.2 91.2 44.8 91.6ZM104.0 93.8 105.2 93.2 105.5 92.8 105.3 92.2 103.8 91.5 102.0 91.8 101.7 92.2 102.3 93.2 103.2 93.9 104.0 93.8ZM92.4 97.2 95.1 95.8 95.2 95.2 93.2 94.5 90.2 94.2 89.8 94.3 89.2 94.7 89.2 95.8 90.8 97.6 91.2 97.7 92.4 97.2ZM54.8 97.3 53.8 97.4 53.2 97.3 52.8 96.8 52.9 96.2 53.8 95.7 54.8 95.7 55.2 96.2 55.2 96.8 54.8 97.3ZM130.4 102.2 131.8 100.2 131.8 99.2 131.5 98.8 130.8 98.2 129.2 97.6 128.2 97.7 127.0 98.2 127.0 98.8 129.4 99.2 129.5 99.8 127.9 100.8 127.9 101.2 129.8 102.4 130.2 102.5 130.4 102.2ZM149.7 99.8 150.5 99.2 150.8 98.8 150.8 98.2 149.8 97.7 148.8 97.7 148.2 98.2 148.2 99.1 148.8 99.6 149.7 99.8ZM121.0 100.2 121.3 99.8 119.4 99.8 119.8 100.3 121.0 100.2ZM73.9 101.2 74.7 100.8 74.8 100.2 73.2 100.1 72.0 100.8 72.2 101.3 73.9 101.2ZM106.9 101.8 107.2 101.2 106.8 100.6 105.2 100.6 104.8 100.8 104.5 101.2 104.8 101.8 105.8 102.1 106.2 102.1 106.9 101.8ZM108.3 107.2 109.2 106.8 110.2 107.0 115.6 105.8 116.8 104.2 118.8 103.2 119.1 102.8 119.0 102.2 118.2 102.0 116.2 102.0 114.2 102.7 112.7 103.2 110.8 105.0 109.8 105.5 108.8 105.5 105.8 104.5 102.8 104.5 101.2 104.9 100.6 105.8 100.7 106.2 101.2 106.8 103.2 107.5 107.2 107.5 108.3 107.2ZM53.8 103.9 52.8 103.9 52.4 103.2 52.8 102.7 53.8 102.7 54.1 103.2 53.8 103.9ZM193.8 107.8 192.8 107.8 191.8 107.3 191.2 106.8 191.2 106.0 193.2 104.8 194.2 103.7 195.8 103.6 196.2 104.2 195.3 106.8 194.8 107.3 193.8 107.8ZM45.2 105.3 44.6 105.2 44.4 104.8 45.2 104.7 45.2 105.3ZM77.5 106.2 77.7 105.8 77.4 105.2 76.2 104.6 75.2 104.7 73.7 105.2 73.7 105.8 75.2 106.3 76.8 106.5 77.5 106.2ZM202.8 106.3 201.8 106.3 201.2 105.8 201.1 105.2 201.4 104.8 202.2 104.5 203.2 104.7 203.4 105.2 203.3 105.8 202.8 106.3ZM146.2 107.7 145.8 107.7 145.3 107.2 145.3 106.8 145.8 106.3 146.2 106.3 146.7 106.8 146.7 107.2 146.2 107.7ZM99.9 109.8 100.4 109.2 100.3 108.8 99.2 107.7 97.8 107.7 96.8 108.8 97.0 109.2 98.2 109.8 99.2 109.9 99.9 109.8ZM192.8 112.3 191.2 112.5 189.2 112.0 187.8 112.0 184.8 112.5 183.2 111.9 182.2 111.9 180.2 111.4 179.6 110.8 179.4 108.2 179.8 107.7 180.8 107.5 183.2 108.2 184.2 108.7 184.5 109.2 183.7 110.8 183.9 111.2 186.2 110.5 191.8 110.5 193.1 111.2 193.2 111.8 192.8 112.3ZM161.8 111.3 161.2 111.2 160.8 110.8 160.9 110.2 161.8 109.7 162.2 109.8 162.8 110.2 162.8 110.6 161.8 111.3ZM199.8 111.3 198.8 111.7 197.8 111.5 196.2 110.9 196.0 110.2 197.2 109.5 199.8 109.6 200.4 110.2 200.3 110.8 199.8 111.3ZM87.9 111.2 87.9 110.8 87.2 110.2 86.1 110.2 86.0 110.8 86.7 111.2 87.9 111.2ZM93.0 111.8 93.3 111.2 92.8 110.6 89.3 111.2 89.8 111.8 92.2 112.0 93.0 111.8ZM56.2 117.8 52.8 118.0 51.9 117.8 51.2 116.2 50.2 115.2 50.2 114.2 50.8 113.7 52.8 112.7 54.2 112.7 54.8 113.2 54.9 113.8 54.2 115.2 54.2 116.1 55.2 116.9 56.4 117.2 56.5 117.8 56.2 117.8ZM156.2 114.8 155.2 114.8 154.2 114.4 153.8 113.8 154.2 113.1 154.8 112.8 156.8 113.2 157.2 113.8 157.1 114.2 156.2 114.8ZM200.2 114.3 199.6 113.8 199.8 113.1 200.2 113.2 200.8 113.8 200.6 114.2 200.2 114.3ZM83.8 115.2 84.3 114.8 84.1 114.2 83.8 114.1 82.2 114.2 81.7 114.8 81.7 115.2 82.2 115.4 83.8 115.2ZM125.2 114.6 125.1 114.2 125.2 114.1 125.4 114.2 125.2 114.6ZM175.2 116.3 174.2 116.3 173.2 115.9 172.9 115.8 172.9 115.2 174.2 114.2 175.8 114.2 176.4 114.8 176.5 115.2 176.2 115.8 175.2 116.3ZM204.8 116.3 203.8 116.2 203.5 115.8 203.8 115.2 207.2 114.2 207.8 114.3 208.3 114.8 208.1 115.2 207.8 115.4 204.8 116.3ZM162.8 117.8 160.2 117.9 159.8 117.2 160.2 116.2 160.8 115.6 163.2 114.6 165.8 115.7 166.3 116.2 166.1 116.8 165.8 116.9 162.8 117.8ZM219.2 117.8 218.8 117.9 218.2 117.5 218.1 116.8 218.2 116.2 219.2 115.2 220.2 114.8 220.8 115.0 221.1 115.8 221.0 116.8 220.6 117.2 219.2 117.8ZM191.2 118.8 190.2 118.8 189.8 118.2 190.1 117.2 191.8 116.1 192.8 115.7 193.2 115.8 193.8 116.2 193.8 117.3 192.8 118.3 191.2 118.8ZM137.8 119.8 136.8 120.0 135.8 119.8 133.8 119.2 133.7 118.8 134.2 118.2 135.2 117.7 138.2 117.0 139.8 117.0 140.8 116.7 142.2 116.7 141.6 117.2 140.2 117.5 137.8 119.8ZM157.8 118.4 156.1 118.2 155.1 117.8 155.2 117.2 156.2 117.1 157.2 117.2 158.1 117.8 158.1 118.2 157.8 118.4ZM125.8 119.8 124.8 120.0 123.8 119.8 122.7 118.8 122.8 118.0 123.8 117.5 125.8 117.7 126.3 118.2 126.4 118.8 126.3 119.2 125.8 119.8ZM182.2 121.4 181.8 121.6 180.8 121.4 178.8 120.0 178.3 119.2 178.2 118.8 178.8 117.8 179.8 117.5 180.8 117.8 182.3 120.2 182.5 120.8 182.2 121.4ZM171.8 120.8 170.8 120.9 169.5 120.2 169.1 119.2 169.2 118.8 169.7 118.2 171.2 118.0 172.4 118.8 172.7 119.8 171.8 120.8ZM204.2 119.3 203.7 119.2 203.1 118.8 203.2 118.2 203.8 118.3 204.6 118.8 204.6 119.2 204.2 119.3ZM150.8 121.3 149.8 121.5 147.8 121.4 147.4 121.2 147.4 120.8 149.2 119.2 150.2 119.1 151.2 119.7 151.4 120.2 151.3 120.8 150.8 121.3ZM211.2 121.3 210.8 121.3 209.9 120.8 209.8 120.2 210.2 119.7 211.8 119.6 212.2 120.1 212.1 120.8 211.2 121.3ZM131.2 121.8 130.2 121.8 129.9 121.2 130.0 120.8 130.8 120.6 131.5 120.8 131.6 121.2 131.2 121.8ZM120.2 121.8 118.8 121.8 118.5 121.8 118.6 121.2 120.2 121.2 120.2 121.8ZM193.2 123.3 192.2 123.2 192.0 122.8 192.2 122.3 192.8 122.1 193.6 122.2 193.8 122.8 193.2 123.3ZM115.2 125.8 114.8 125.9 114.0 125.8 113.7 125.2 113.9 124.8 114.8 124.2 115.5 124.2 115.9 124.8 115.8 125.2 115.2 125.8ZM74.2 126.8 73.2 127.1 71.2 127.1 70.4 126.8 70.4 126.2 71.2 125.7 72.8 125.2 74.2 125.1 74.8 125.2 75.2 125.8 74.2 126.8ZM78.2 125.8 77.4 125.8 77.5 125.2 78.5 125.2 78.2 125.8ZM130.8 126.9 129.9 126.8 130.1 126.2 130.9 126.2 131.1 126.8 130.8 126.9ZM201.8 127.0 200.8 127.0 200.4 126.8 200.4 126.2 201.2 125.9 201.8 126.0 202.1 126.2 202.1 126.8 201.8 127.0ZM209.8 126.8 208.8 126.8 209.2 126.2 209.8 126.2 209.8 126.8Z" fill="#c8ff32" fill-rule="evenodd"/>
<path d="M127.8 17.8 126.5 17.8 126.2 17.2 126.4 16.8 130.2 14.2 132.8 14.0 134.0 14.2 134.2 14.8 134.1 15.2 133.2 16.3 130.2 16.7 127.8 17.8ZM139.8 15.5 139.5 15.2 139.7 14.8 140.2 14.6 140.1 15.2 139.8 15.5ZM196.2 15.3 195.7 15.2 195.7 14.8 196.3 14.8 196.2 15.3ZM175.2 17.3 174.2 17.3 173.8 16.8 173.8 15.7 174.8 15.0 176.8 15.2 177.2 15.8 177.2 16.2 176.8 16.8 175.2 17.3ZM143.2 37.3 142.8 37.4 142.2 37.0 142.0 35.2 140.5 34.2 139.0 32.2 138.8 31.2 139.2 30.2 139.2 29.8 138.8 29.5 136.2 30.0 134.2 30.0 131.8 29.5 129.8 30.0 124.8 30.0 121.8 31.3 120.2 31.6 118.8 32.7 118.2 32.8 116.8 32.2 115.8 32.1 112.8 32.9 111.2 32.5 109.8 32.5 107.2 33.5 104.2 33.5 102.8 34.0 101.8 34.0 99.8 32.9 98.7 31.8 97.3 28.8 97.6 26.8 97.4 26.2 96.8 25.7 94.8 24.7 91.2 24.0 85.8 24.0 83.2 23.0 81.8 22.8 79.2 23.0 78.2 22.5 77.8 21.8 77.5 20.2 78.5 18.8 79.8 18.1 80.8 18.2 84.2 19.5 92.2 19.5 94.8 20.7 96.2 22.3 97.2 22.7 99.2 22.5 100.2 22.7 102.2 24.8 103.2 24.9 105.2 24.3 109.2 22.5 111.2 22.5 112.8 23.0 115.8 23.0 119.8 23.9 120.8 23.5 122.2 22.2 124.2 21.9 125.8 21.3 127.2 22.0 128.2 22.0 134.2 22.0 136.2 21.3 138.2 21.5 140.8 20.8 141.2 19.7 145.2 17.7 145.8 17.7 145.8 18.8 146.0 19.2 148.8 20.0 151.8 19.8 154.8 18.7 156.8 18.4 158.2 17.2 159.2 17.0 160.1 17.2 161.2 18.4 163.2 18.5 165.2 18.0 167.8 18.0 171.2 19.3 174.2 20.0 176.2 20.0 178.2 19.5 180.2 19.6 180.6 19.2 180.8 18.4 181.2 18.2 181.8 18.3 183.8 20.4 184.2 20.2 184.2 19.2 184.6 18.2 184.7 16.8 184.1 15.8 184.3 15.2 184.8 14.8 185.2 14.9 185.5 15.2 184.9 16.8 185.8 17.3 187.6 17.8 187.6 18.2 186.2 19.3 185.1 20.8 185.8 21.3 190.8 22.7 191.5 23.2 192.0 24.2 192.0 25.8 191.2 26.4 190.2 26.5 188.2 26.1 184.8 27.0 183.2 26.8 181.2 26.0 179.2 26.0 177.8 25.6 176.2 26.2 175.2 25.1 174.2 24.7 171.2 25.8 170.2 26.0 167.2 25.5 163.8 26.0 161.8 25.7 160.2 25.9 158.8 25.5 155.8 25.5 154.8 25.7 152.8 26.5 145.2 26.7 142.8 27.8 141.9 29.2 141.2 31.2 141.2 32.2 142.3 33.8 142.5 34.8 143.6 35.8 143.9 36.2 143.8 36.8 143.2 37.3ZM220.2 35.9 218.2 35.9 217.8 35.6 217.5 34.8 217.5 16.2 217.9 15.2 218.8 15.0 220.6 15.2 221.1 16.2 221.1 34.8 220.8 35.6 220.2 35.9ZM206.2 21.0 205.8 20.6 205.1 19.2 205.2 18.3 205.8 17.9 206.3 18.2 206.1 19.8 206.5 20.8 206.2 21.0ZM212.8 20.8 211.7 20.8 211.3 20.2 211.2 19.8 211.8 18.6 212.8 17.8 213.6 18.2 213.9 19.2 213.7 20.2 212.8 20.8ZM199.8 24.0 199.2 23.8 198.9 23.2 199.2 22.7 199.8 22.8 200.2 23.2 200.1 23.8 199.8 24.0ZM157.8 28.9 157.0 28.8 156.6 28.2 156.6 27.2 157.2 26.8 157.8 27.2 158.2 28.2 157.8 28.9ZM205.8 27.9 205.1 27.8 205.8 27.9ZM162.2 36.8 161.3 36.8 161.0 36.2 161.9 34.2 160.8 32.8 161.0 32.2 161.8 31.6 162.2 30.2 162.8 29.8 163.2 29.7 163.8 30.2 164.4 32.8 164.8 33.2 166.2 33.7 166.6 34.2 166.2 34.9 164.8 34.7 163.8 34.9 162.2 36.8ZM159.8 30.6 159.6 30.2 159.8 30.1 159.9 30.2 159.8 30.6ZM155.8 33.1 155.2 32.8 155.8 32.2 156.1 32.8 155.8 33.1ZM175.8 36.8 175.0 36.8 174.6 36.2 174.8 35.7 175.7 34.8 176.2 33.3 180.2 32.6 181.4 32.8 181.4 33.2 179.6 36.2 178.8 36.4 178.4 36.2 177.8 35.3 177.2 35.0 176.7 35.2 176.3 36.2 175.8 36.8ZM209.8 36.9 208.8 37.2 208.1 36.8 207.8 35.8 208.2 35.1 209.2 34.8 209.9 35.2 210.2 36.2 209.8 36.9ZM147.2 36.4 146.7 36.2 147.2 35.8 147.2 36.4ZM153.8 37.8 152.5 37.2 152.3 36.8 152.8 36.2 153.8 36.2 154.6 36.8 154.7 37.2 154.2 37.7 153.8 37.8ZM87.2 37.7 86.8 37.7 86.3 37.2 86.3 36.8 86.8 36.3 87.2 36.3 87.7 36.8 87.7 37.2 87.2 37.7ZM186.8 38.8 185.2 38.2 182.8 38.4 182.2 38.0 182.2 37.2 182.8 36.7 183.8 36.5 187.2 37.1 187.8 37.5 187.8 38.2 187.2 38.7 186.8 38.8ZM126.2 39.4 125.4 39.2 125.1 38.8 125.2 38.0 125.8 37.6 126.8 38.1 127.0 38.8 126.8 39.2 126.2 39.4ZM168.8 39.8 167.8 39.8 166.9 39.2 166.8 38.8 167.1 38.2 168.2 37.4 169.2 37.6 169.8 38.2 169.7 39.2 168.8 39.8ZM194.8 39.4 194.2 39.7 193.5 39.2 193.5 38.2 194.2 37.6 194.8 37.7 195.2 38.2 195.2 38.8 194.8 39.4ZM212.8 39.3 211.8 39.4 211.3 38.8 211.6 38.2 212.2 37.7 213.0 37.8 213.4 38.2 213.3 38.8 212.8 39.3ZM130.8 41.8 129.8 41.8 129.1 40.8 129.2 39.2 129.8 38.7 130.2 38.6 131.2 38.9 131.7 39.8 131.3 41.2 130.8 41.8ZM150.2 40.9 149.4 40.8 149.1 40.2 149.2 39.4 149.8 39.1 150.6 39.2 150.9 39.8 150.8 40.6 150.2 40.9ZM160.8 40.4 160.8 40.2 160.8 40.4ZM204.2 42.3 203.8 42.2 203.4 41.8 203.4 41.2 203.8 40.4 204.8 40.1 205.2 40.4 205.5 41.2 205.2 41.8 204.2 42.3ZM219.8 45.3 219.0 45.2 218.6 44.8 218.8 43.9 219.2 43.6 220.2 43.6 220.9 44.2 220.7 44.8 219.8 45.3ZM201.8 44.9 201.4 44.8 201.4 44.2 201.8 43.9 202.3 44.2 202.1 44.8 201.8 44.9ZM185.2 45.7 184.8 45.7 184.3 45.2 184.3 44.8 184.8 44.3 185.2 44.3 185.7 44.8 185.7 45.2 185.2 45.7ZM214.8 48.4 214.2 48.7 213.8 48.7 213.2 48.2 213.2 47.5 213.8 47.1 214.2 47.2 214.8 47.8 214.8 48.4ZM204.2 50.3 203.8 50.7 203.2 50.7 202.7 50.2 202.7 49.2 203.2 48.4 203.8 48.2 204.4 48.8 204.2 50.3ZM220.2 80.4 216.2 79.5 212.2 80.0 209.8 78.6 207.8 78.9 207.2 78.6 206.2 77.0 203.6 75.2 201.9 73.2 200.8 72.7 197.2 71.6 194.4 68.8 191.8 67.3 189.8 65.9 186.2 65.5 183.2 64.5 181.8 64.5 179.8 65.0 177.8 64.8 175.2 63.9 173.2 62.0 172.2 61.7 170.8 62.0 162.8 62.0 157.8 63.0 155.8 63.0 153.8 62.6 151.2 63.8 148.1 64.2 148.2 65.2 147.8 65.8 147.1 65.8 146.8 64.3 139.8 64.5 138.6 65.2 138.4 65.8 138.5 67.2 138.2 67.5 137.2 67.3 136.2 66.3 135.2 66.0 128.8 66.0 124.8 67.0 121.2 67.0 118.8 68.0 114.8 68.7 113.8 69.2 113.2 70.6 112.8 70.8 111.2 70.4 108.8 70.5 105.8 71.8 102.8 72.7 100.8 74.5 98.5 77.2 96.8 78.3 95.2 78.3 94.3 77.8 94.1 77.2 94.0 75.8 94.2 74.8 94.7 73.8 96.2 71.9 98.6 68.2 101.8 66.9 104.2 64.7 109.2 62.2 112.2 61.5 114.8 61.3 119.2 59.7 123.8 58.5 128.8 58.5 133.8 57.0 137.8 57.5 141.8 56.5 144.2 56.5 146.8 55.6 148.8 56.0 151.2 56.0 155.8 55.0 158.2 55.0 160.8 54.2 163.8 53.5 166.8 54.0 171.8 54.0 174.8 53.5 175.8 53.7 176.2 54.0 178.8 56.5 181.2 58.3 182.2 58.8 184.8 59.5 187.8 59.7 194.8 61.8 195.8 61.8 196.8 61.3 198.4 61.8 198.9 62.2 199.0 63.2 200.5 65.8 201.2 66.3 204.2 67.2 204.8 67.5 207.2 71.2 208.8 72.1 209.8 72.4 210.9 71.8 211.8 71.7 213.8 72.2 216.8 73.8 220.6 74.8 221.1 75.8 221.1 79.2 220.8 80.1 220.2 80.4ZM200.8 55.8 200.2 56.2 199.8 56.2 199.2 55.8 199.1 54.8 199.2 54.2 199.8 53.8 200.2 53.8 200.8 54.2 200.9 55.2 200.8 55.8ZM206.8 57.8 206.2 57.5 206.1 56.8 206.2 56.2 206.7 55.8 207.2 55.7 207.5 56.2 207.4 57.2 206.8 57.8ZM217.2 60.3 214.2 59.0 212.8 59.2 212.2 59.0 211.8 57.8 212.2 57.3 213.8 57.5 215.2 57.3 216.8 57.7 217.8 58.5 218.2 59.2 218.2 59.8 217.8 60.2 217.2 60.3ZM220.2 70.3 219.8 69.8 219.8 69.2 220.2 68.7 220.8 68.8 221.0 69.8 220.8 70.2 220.2 70.3ZM119.2 69.8 118.8 70.1 118.4 69.8 118.8 69.2 119.2 69.8ZM153.2 70.1 152.8 70.1 152.6 69.8 152.8 69.4 153.2 69.2 153.6 69.8 153.2 70.1ZM143.2 71.4 142.2 71.2 141.9 70.8 142.1 70.2 142.8 70.1 143.3 70.2 143.6 70.8 143.2 71.4ZM217.8 72.2 217.2 72.2 216.8 71.8 216.8 71.2 217.2 70.8 217.8 70.8 218.2 71.2 218.2 71.8 217.8 72.2ZM119.2 72.9 118.8 72.7 118.5 72.2 118.8 71.8 119.2 71.6 119.8 71.8 120.0 72.2 119.8 72.7 119.2 72.9ZM150.2 75.8 149.7 75.8 149.7 75.2 150.3 75.2 150.2 75.8ZM103.2 78.8 101.3 78.8 100.8 78.2 100.7 77.8 101.1 76.8 101.7 75.8 102.2 75.5 103.2 76.1 104.2 77.8 104.1 78.2 103.2 78.8ZM176.2 76.3 176.1 76.2 176.2 75.9 176.4 76.2 176.2 76.3ZM202.8 79.3 202.2 79.2 201.8 78.8 201.6 78.2 201.8 77.4 202.2 77.1 203.2 77.2 203.8 77.8 203.9 78.2 203.7 78.8 202.8 79.3ZM127.2 79.8 126.8 79.9 126.3 79.2 126.2 78.7 126.8 78.8 127.2 79.8ZM171.8 80.0 171.4 79.8 171.8 79.5 172.0 79.8 171.8 80.0ZM115.2 82.9 114.4 82.8 114.1 82.2 114.2 81.4 114.8 81.1 115.6 81.2 115.9 81.8 115.8 82.6 115.2 82.9ZM212.2 82.4 212.1 82.2 212.2 82.1 212.4 82.2 212.2 82.4ZM138.2 84.7 137.8 84.7 137.3 84.2 137.3 83.8 137.8 83.3 138.2 83.3 138.7 83.8 138.7 84.2 138.2 84.7ZM103.8 85.8 102.2 86.1 101.4 85.8 101.3 85.2 102.2 84.2 103.8 84.1 104.4 84.8 104.3 85.2 103.8 85.8ZM120.8 85.3 120.0 84.8 120.0 84.2 120.2 83.9 120.8 83.8 121.3 84.2 121.2 85.0 120.8 85.3ZM69.2 120.3 67.8 120.5 65.8 120.0 62.2 120.0 60.0 119.2 59.1 118.8 58.4 117.8 58.0 116.8 58.2 115.2 59.6 113.2 61.8 112.2 63.8 112.0 67.2 113.3 67.8 113.2 69.2 112.2 72.2 110.7 74.2 110.0 76.8 109.8 77.4 108.8 77.4 107.2 78.2 106.2 79.8 105.7 82.2 105.3 82.8 104.8 84.2 102.1 85.2 101.2 86.2 100.8 87.8 99.7 93.8 96.4 97.2 95.3 99.2 93.7 100.8 93.5 102.2 94.0 103.2 94.0 105.8 93.2 107.8 93.0 110.2 92.3 113.2 91.0 114.8 91.2 117.8 92.3 118.2 92.2 118.8 91.9 119.8 90.7 120.8 90.5 122.2 90.5 125.8 91.5 129.8 90.5 132.2 91.0 135.2 90.7 138.2 91.0 140.8 90.5 145.2 90.5 147.2 90.0 148.8 90.0 150.8 90.4 152.2 90.0 155.2 90.0 158.8 89.0 160.2 89.0 162.2 89.5 168.2 89.5 170.2 88.5 171.8 88.1 174.8 89.0 178.8 89.0 181.2 90.0 186.2 90.5 190.2 92.0 193.8 92.2 195.2 92.7 196.3 93.8 197.2 94.3 199.8 95.0 205.8 95.2 209.8 97.5 216.2 97.7 217.8 98.2 220.2 99.9 220.8 100.3 221.1 101.2 221.1 105.2 220.8 106.1 219.8 106.5 215.8 106.5 213.8 106.0 210.2 106.0 208.8 105.5 206.2 105.3 204.8 104.8 202.2 103.2 200.2 102.5 197.8 102.3 192.2 100.8 189.8 99.7 184.8 98.0 180.8 98.0 178.8 97.5 176.8 97.8 172.8 97.0 169.8 97.0 167.8 97.5 165.8 97.5 161.8 97.5 159.8 97.0 157.8 97.0 152.2 98.3 149.2 97.5 148.2 97.5 147.7 97.8 146.2 98.8 144.8 99.5 142.8 99.5 140.8 99.0 138.2 99.0 134.2 99.5 132.8 99.3 129.9 97.8 128.8 97.6 126.8 98.2 125.2 99.0 122.8 99.0 121.2 99.5 116.2 99.5 114.2 100.0 110.2 100.0 107.8 100.5 105.2 100.5 102.2 102.3 96.8 103.2 94.6 104.2 89.2 108.7 87.2 109.2 86.2 109.7 85.7 110.2 84.8 111.9 83.2 112.8 81.2 114.8 75.4 118.2 72.2 118.7 69.2 120.3ZM197.8 90.8 197.2 91.2 196.8 91.2 196.1 90.8 196.2 90.2 196.8 89.7 197.2 89.6 197.8 90.0 197.8 90.8ZM90.8 92.3 90.2 92.7 89.8 92.7 89.3 92.2 89.3 91.8 89.8 91.3 90.2 91.3 90.7 91.8 90.8 92.3ZM92.8 93.8 92.2 93.6 91.9 92.8 92.2 92.2 93.8 91.4 93.9 91.8 93.8 92.8 93.2 93.6 92.8 93.8ZM63.2 96.9 62.4 96.8 62.1 96.2 62.2 95.4 62.8 95.1 63.6 95.2 63.9 95.8 63.8 96.6 63.2 96.9ZM75.2 99.4 74.2 99.7 72.8 99.0 70.2 98.8 69.2 98.2 68.8 97.8 68.8 97.2 69.2 96.7 70.8 96.0 73.8 96.2 74.9 96.8 75.8 97.8 75.8 98.8 75.2 99.4ZM107.2 102.6 107.1 102.2 107.2 102.1 107.4 102.2 107.2 102.6ZM146.2 107.7 145.8 107.7 145.3 107.2 145.3 106.8 145.8 106.3 146.2 106.3 146.7 106.8 146.7 107.2 146.2 107.7ZM104.8 108.3 104.2 108.2 104.8 108.3ZM125.2 114.6 125.1 114.2 125.2 114.2 125.4 114.2 125.2 114.6ZM83.2 118.8 81.8 118.5 80.2 118.9 79.8 118.7 79.5 118.2 79.8 117.7 80.8 117.2 83.2 117.1 83.8 117.4 84.0 118.2 83.8 118.7 83.2 118.8ZM95.2 118.8 94.6 118.8 94.3 118.2 94.8 117.6 95.2 117.3 95.8 117.3 95.9 117.8 95.8 118.2 95.2 118.8Z" fill="#ff3c00" fill-rule="evenodd"/>
<path d="M220.2 32.9 219.4 32.8 219.0 31.8 219.0 18.2 219.2 17.4 219.8 17.1 220.6 17.2 221.1 18.2 221.1 31.8 220.8 32.6 220.2 32.9ZM118.2 32.8 116.8 32.2 115.8 32.1 112.8 32.9 110.2 32.5 108.2 33.0 107.8 32.8 107.5 32.2 107.1 30.2 107.2 29.8 107.8 29.0 108.8 28.5 111.8 29.0 114.8 28.3 115.9 27.8 117.2 26.3 117.8 26.1 120.2 27.0 122.8 27.0 127.8 25.0 130.2 24.5 132.2 24.5 138.8 23.0 143.2 22.5 146.2 21.5 147.8 21.5 149.8 21.9 155.2 20.0 158.8 20.0 164.8 18.5 168.8 18.5 172.2 19.7 173.2 20.3 174.0 21.8 173.9 22.8 173.2 23.6 171.8 24.3 169.2 25.0 166.8 25.0 163.8 25.8 161.8 25.5 155.8 25.5 154.8 25.7 152.8 26.5 145.8 26.5 143.2 27.5 141.8 28.6 140.2 29.3 138.8 29.4 136.2 30.0 134.2 30.0 131.8 29.5 129.8 30.0 124.8 30.0 121.8 31.3 120.2 31.6 118.8 32.7 118.2 32.8ZM96.8 77.3 95.7 77.2 95.2 76.8 95.1 75.8 95.2 75.2 96.3 73.8 98.0 70.2 99.8 68.7 101.2 68.3 103.2 67.3 105.6 65.2 109.8 62.7 114.8 62.3 118.2 61.3 120.2 60.2 124.2 59.0 125.8 59.0 127.8 59.4 131.8 58.2 133.8 57.8 138.8 58.9 141.8 57.7 144.2 57.3 146.2 56.5 152.2 56.5 156.2 55.5 159.2 55.5 161.2 54.7 164.2 54.2 166.8 54.5 173.2 54.5 175.2 54.3 176.5 55.2 179.8 59.2 181.2 60.1 182.2 60.5 186.2 60.7 192.2 62.8 196.2 63.7 199.2 66.8 202.8 68.2 203.5 68.8 205.2 70.6 207.2 73.8 206.8 73.9 204.2 73.3 201.8 71.9 200.2 71.3 196.8 68.2 192.8 66.8 190.4 64.8 189.2 64.2 186.8 63.5 184.2 63.5 182.2 63.0 179.8 63.5 176.2 63.5 175.7 63.2 174.2 61.5 173.2 60.9 166.2 61.0 164.2 61.5 159.2 61.5 156.2 62.4 154.2 62.0 152.8 62.0 150.2 63.0 147.8 63.0 144.2 63.9 142.2 63.5 139.2 63.5 136.2 65.0 129.8 65.0 127.2 65.8 124.2 66.5 121.2 66.5 118.8 67.5 115.2 67.7 110.2 69.3 107.8 69.7 105.8 71.3 102.2 72.2 100.1 73.8 98.8 75.5 96.8 77.3ZM220.8 78.8 220.2 79.0 218.2 78.8 214.2 77.1 212.2 77.5 209.2 77.3 207.7 75.8 207.2 73.9 215.2 75.5 218.2 75.5 220.2 75.1 220.8 75.4 221.1 76.2 221.1 78.2 220.8 78.8ZM69.2 119.3 67.2 119.5 62.2 119.3 60.8 118.8 59.5 117.8 58.7 116.8 58.7 115.8 59.5 114.2 61.2 113.2 64.2 113.0 66.8 114.0 68.2 113.9 70.2 112.2 72.8 111.2 75.8 111.0 77.2 110.3 78.3 109.2 78.6 107.2 78.9 106.8 82.8 105.8 85.2 102.5 89.2 99.7 94.2 96.7 96.2 96.0 98.8 95.8 100.8 94.6 103.8 94.5 112.8 92.0 115.2 92.0 117.2 92.8 118.2 93.0 119.2 92.8 120.8 91.7 121.8 91.5 125.8 92.0 129.2 91.2 131.2 91.5 143.2 91.5 146.8 90.5 151.2 91.0 153.2 90.5 156.8 90.5 158.8 90.0 160.8 90.0 162.8 90.5 167.2 90.5 169.8 89.8 171.2 89.2 172.8 89.0 175.8 89.8 177.8 89.6 181.2 90.5 185.2 91.0 190.2 93.0 192.8 92.8 193.8 93.0 195.8 94.3 197.2 94.8 199.2 95.2 201.2 95.8 203.2 95.6 205.8 96.2 208.8 97.8 210.2 98.3 212.8 98.0 215.8 98.2 217.2 98.7 220.2 100.2 220.8 100.8 221.1 101.8 221.1 104.8 220.6 105.8 219.8 106.0 215.8 106.0 212.8 105.1 210.2 105.5 206.2 104.8 204.2 103.8 202.2 102.5 200.8 102.0 198.2 101.8 185.2 97.5 181.8 97.5 179.8 97.0 175.8 97.0 172.2 96.0 167.2 96.0 165.2 96.8 164.2 97.0 162.2 97.0 158.8 96.2 152.8 97.5 151.2 97.5 149.8 97.0 147.8 97.0 144.8 98.3 143.8 98.5 134.2 98.5 131.8 97.8 130.2 97.2 128.8 97.0 126.2 97.7 124.8 98.3 121.8 99.0 115.2 99.0 113.2 99.3 110.2 98.6 107.8 99.8 103.8 100.2 102.2 101.5 101.2 102.0 98.8 102.5 96.2 102.5 94.8 103.1 93.2 104.0 91.2 105.8 88.8 107.2 87.8 108.3 85.2 109.5 80.8 114.3 78.8 115.2 76.2 116.9 74.2 117.8 72.2 118.2 69.2 119.3Z" fill="#e40000" fill-rule="evenodd"/>
<path d="M113.2 32.3 110.2 32.4 109.7 32.2 109.3 31.8 109.3 31.2 109.8 30.7 111.8 30.2 114.8 30.0 117.2 29.5 120.8 28.2 123.8 28.0 126.8 27.0 128.8 27.0 137.8 24.5 140.8 24.5 142.8 24.8 144.8 24.3 146.8 23.5 149.8 23.5 157.2 21.5 161.2 21.5 162.8 21.0 165.2 21.0 166.8 20.5 171.8 20.6 172.3 20.8 172.7 21.2 172.7 21.8 172.2 22.3 167.2 23.5 161.8 23.5 159.8 24.0 155.2 24.0 153.2 24.8 150.8 25.5 148.8 25.5 147.2 26.0 144.2 26.0 141.8 26.7 138.8 27.8 135.8 28.5 132.8 28.5 128.8 29.5 125.2 29.5 120.8 31.0 117.2 31.0 113.2 32.3ZM114.2 66.3 112.8 66.4 112.2 66.1 112.0 65.2 112.4 64.2 114.8 64.0 117.8 63.0 121.8 62.5 125.2 61.5 128.2 61.5 132.8 60.5 139.2 60.5 143.2 59.5 145.8 59.5 148.8 58.5 153.8 58.5 157.2 57.5 163.2 57.5 165.8 57.0 170.2 57.0 171.2 57.1 171.9 57.8 171.8 58.6 170.8 59.0 167.2 59.0 165.2 59.5 158.2 59.5 151.2 61.0 145.8 61.0 142.2 62.0 139.8 61.5 134.2 63.0 132.2 63.0 130.2 63.5 125.8 63.5 122.2 64.2 118.2 65.8 115.2 66.0 114.2 66.3ZM218.2 104.3 213.8 103.0 210.2 103.0 207.8 102.5 204.8 101.2 201.2 100.3 199.8 99.7 196.8 98.9 194.2 99.0 191.8 98.3 190.2 97.7 183.8 96.0 180.8 96.0 179.2 95.5 176.8 95.5 175.2 95.0 166.8 95.0 164.2 95.5 157.8 95.5 155.2 96.0 148.2 96.0 145.8 96.5 134.8 96.5 132.8 96.9 131.2 96.5 127.8 96.5 123.2 97.5 116.8 97.5 114.8 98.0 108.8 98.0 106.8 98.4 106.1 97.8 106.0 95.8 106.4 94.8 109.2 94.0 119.2 94.0 122.8 93.0 132.8 93.0 134.8 92.5 136.2 92.5 138.8 92.5 140.2 93.0 142.8 93.0 147.2 92.0 149.8 92.5 151.8 92.5 156.2 91.5 160.8 91.5 162.8 91.9 164.8 91.5 169.2 91.5 171.2 91.0 175.2 91.0 177.2 91.5 182.2 91.5 193.8 94.7 195.2 95.2 197.2 96.3 202.2 98.3 206.8 99.2 210.8 100.5 213.2 100.5 214.8 101.0 217.8 101.2 220.7 102.8 220.9 103.2 220.6 103.8 218.2 104.3Z" fill="#b80000" fill-rule="evenodd"/>
</g>
<rect x="42.5" y="6.5" width="180" height="122" fill="none" stroke="#000" stroke-width="3"/>
<line x1="60.00" y1="127.00" x2="60.00" y2="125.00" stroke="#000" stroke-width="2.2"/>
<line x1="60.00" y1="8.00" x2="60.00" y2="10.00" stroke="#000" stroke-width="2.2"/>
<text x="60.00" y="143.20" font-size="10.5" text-anchor="middle" font-weight="bold" >3.1</text>
<line x1="95.85" y1="127.00" x2="95.85" y2="125.00" stroke="#000" stroke-width="2.2"/>
<line x1="95.85" y1="8.00" x2="95.85" y2="10.00" stroke="#000" stroke-width="2.2"/>
<text x="95.85" y="143.20" font-size="10.5" text-anchor="middle" font-weight="bold" >3.2</text>
<line x1="131.70" y1="127.00" x2="131.70" y2="125.00" stroke="#000" stroke-width="2.2"/>
<line x1="131.70" y1="8.00" x2="131.70" y2="10.00" stroke="#000" stroke-width="2.2"/>
<text x="131.70" y="143.20" font-size="10.5" text-anchor="middle" font-weight="bold" >3.3</text>
<line x1="167.55" y1="127.00" x2="167.55" y2="125.00" stroke="#000" stroke-width="2.2"/>
<line x1="167.55" y1="8.00" x2="167.55" y2="10.00" stroke="#000" stroke-width="2.2"/>
<text x="167.55" y="143.20" font-size="10.5" text-anchor="middle" font-weight="bold" >3.4</text>
<line x1="203.40" y1="127.00" x2="203.40" y2="125.00" stroke="#000" stroke-width="2.2"/>
<line x1="203.40" y1="8.00" x2="203.40" y2="10.00" stroke="#000" stroke-width="2.2"/>
<text x="203.40" y="143.20" font-size="10.5" text-anchor="middle" font-weight="bold" >3.5</text>
<line x1="44.00" y1="128.50" x2="46.00" y2="128.50" stroke="#000" stroke-width="2.2"/>
<line x1="221.00" y1="128.50" x2="219.00" y2="128.50" stroke="#000" stroke-width="2.2"/>
<text x="37.00" y="132.30" font-size="10.5" text-anchor="end" font-weight="bold" >0</text>
<line x1="44.00" y1="101.10" x2="46.00" y2="101.10" stroke="#000" stroke-width="2.2"/>
<line x1="221.00" y1="101.10" x2="219.00" y2="101.10" stroke="#000" stroke-width="2.2"/>
<text x="37.00" y="104.90" font-size="10.5" text-anchor="end" font-weight="bold" >5</text>
<line x1="44.00" y1="73.70" x2="46.00" y2="73.70" stroke="#000" stroke-width="2.2"/>
<line x1="221.00" y1="73.70" x2="219.00" y2="73.70" stroke="#000" stroke-width="2.2"/>
<text x="37.00" y="77.50" font-size="10.5" text-anchor="end" font-weight="bold" >10</text>
<line x1="44.00" y1="46.30" x2="46.00" y2="46.30" stroke="#000" stroke-width="2.2"/>
<line x1="221.00" y1="46.30" x2="219.00" y2="46.30" stroke="#000" stroke-width="2.2"/>
<text x="37.00" y="50.10" font-size="10.5" text-anchor="end" font-weight="bold" >15</text>
<line x1="44.00" y1="18.90" x2="46.00" y2="18.90" stroke="#000" stroke-width="2.2"/>
<line x1="221.00" y1="18.90" x2="219.00" y2="18.90" stroke="#000" stroke-width="2.2"/>
<text x="37.00" y="22.70" font-size="10.5" text-anchor="end" font-weight="bold" >20</text>
<text x="50.80" y="25.60" font-size="18.8" text-anchor="start" font-weight="bold" >(a)</text>
<text x="89.00" y="32.60" font-size="18.5" text-anchor="start" font-weight="bold" >3/3</text>
<text x="71.80" y="70.80" font-size="18.5" text-anchor="start" font-weight="bold" >2/2</text>
<text x="54.20" y="117.60" font-size="18.2" text-anchor="start" font-weight="bold" >1/1</text>
<rect x="42.5" y="145.5" width="181" height="117.5" fill="none" stroke="#000" stroke-width="3"/>
<line x1="45.66" y1="261.50" x2="45.66" y2="259.90" stroke="#000" stroke-width="1.6"/>
<line x1="45.66" y1="147.00" x2="45.66" y2="148.60" stroke="#000" stroke-width="1.6"/>
<line x1="49.24" y1="261.50" x2="49.24" y2="259.90" stroke="#000" stroke-width="1.6"/>
<line x1="49.24" y1="147.00" x2="49.24" y2="148.60" stroke="#000" stroke-width="1.6"/>
<line x1="52.83" y1="261.50" x2="52.83" y2="259.90" stroke="#000" stroke-width="1.6"/>
<line x1="52.83" y1="147.00" x2="52.83" y2="148.60" stroke="#000" stroke-width="1.6"/>
<line x1="56.41" y1="261.50" x2="56.41" y2="259.90" stroke="#000" stroke-width="1.6"/>
<line x1="56.41" y1="147.00" x2="56.41" y2="148.60" stroke="#000" stroke-width="1.6"/>
<line x1="60.00" y1="261.50" x2="60.00" y2="258.50" stroke="#000" stroke-width="2.2"/>
<line x1="60.00" y1="147.00" x2="60.00" y2="150.00" stroke="#000" stroke-width="2.2"/>
<line x1="63.58" y1="261.50" x2="63.58" y2="259.90" stroke="#000" stroke-width="1.6"/>
<line x1="63.58" y1="147.00" x2="63.58" y2="148.60" stroke="#000" stroke-width="1.6"/>
<line x1="67.17" y1="261.50" x2="67.17" y2="259.90" stroke="#000" stroke-width="1.6"/>
<line x1="67.17" y1="147.00" x2="67.17" y2="148.60" stroke="#000" stroke-width="1.6"/>
<line x1="70.75" y1="261.50" x2="70.75" y2="259.90" stroke="#000" stroke-width="1.6"/>
<line x1="70.75" y1="147.00" x2="70.75" y2="148.60" stroke="#000" stroke-width="1.6"/>
<line x1="74.34" y1="261.50" x2="74.34" y2="259.90" stroke="#000" stroke-width="1.6"/>
<line x1="74.34" y1="147.00" x2="74.34" y2="148.60" stroke="#000" stroke-width="1.6"/>
<line x1="77.92" y1="261.50" x2="77.92" y2="259.90" stroke="#000" stroke-width="1.6"/>
<line x1="77.92" y1="147.00" x2="77.92" y2="148.60" stroke="#000" stroke-width="1.6"/>
<line x1="81.51" y1="261.50" x2="81.51" y2="259.90" stroke="#000" stroke-width="1.6"/>
<line x1="81.51" y1="147.00" x2="81.51" y2="148.60" stroke="#000" stroke-width="1.6"/>
<line x1="85.09" y1="261.50" x2="85.09" y2="259.90" stroke="#000" stroke-width="1.6"/>
<line x1="85.09" y1="147.00" x2="85.09" y2="148.60" stroke="#000" stroke-width="1.6"/>
<line x1="88.68" y1="261.50" x2="88.68" y2="259.90" stroke="#000" stroke-width="1.6"/>
<line x1="88.68" y1="147.00" x2="88.68" y2="148.60" stroke="#000" stroke-width="1.6"/>
<line x1="92.26" y1="261.50" x2="92.26" y2="259.90" stroke="#000" stroke-width="1.6"/>
<line x1="92.26" y1="147.00" x2="92.26" y2="148.60" stroke="#000" stroke-width="1.6"/>
<line x1="95.85" y1="261.50" x2="95.85" y2="258.50" stroke="#000" stroke-width="2.2"/>
<line x1="95.85" y1="147.00" x2="95.85" y2="150.00" stroke="#000" stroke-width="2.2"/>
<line x1="99.43" y1="261.50" x2="99.43" y2="259.90" stroke="#000" stroke-width="1.6"/>
<line x1="99.43" y1="147.00" x2="99.43" y2="148.60" stroke="#000" stroke-width="1.6"/>
<line x1="103.02" y1="261.50" x2="103.02" y2="259.90" stroke="#000" stroke-width="1.6"/>
<line x1="103.02" y1="147.00" x2="103.02" y2="148.60" stroke="#000" stroke-width="1.6"/>
<line x1="106.60" y1="261.50" x2="106.60" y2="259.90" stroke="#000" stroke-width="1.6"/>
<line x1="106.60" y1="147.00" x2="106.60" y2="148.60" stroke="#000" stroke-width="1.6"/>
<line x1="110.19" y1="261.50" x2="110.19" y2="259.90" stroke="#000" stroke-width="1.6"/>
<line x1="110.19" y1="147.00" x2="110.19" y2="148.60" stroke="#000" stroke-width="1.6"/>
<line x1="113.77" y1="261.50" x2="113.77" y2="259.90" stroke="#000" stroke-width="1.6"/>
<line x1="113.77" y1="147.00" x2="113.77" y2="148.60" stroke="#000" stroke-width="1.6"/>
<line x1="117.36" y1="261.50" x2="117.36" y2="259.90" stroke="#000" stroke-width="1.6"/>
<line x1="117.36" y1="147.00" x2="117.36" y2="148.60" stroke="#000" stroke-width="1.6"/>
<line x1="120.94" y1="261.50" x2="120.94" y2="259.90" stroke="#000" stroke-width="1.6"/>
<line x1="120.94" y1="147.00" x2="120.94" y2="148.60" stroke="#000" stroke-width="1.6"/>
<line x1="124.53" y1="261.50" x2="124.53" y2="259.90" stroke="#000" stroke-width="1.6"/>
<line x1="124.53" y1="147.00" x2="124.53" y2="148.60" stroke="#000" stroke-width="1.6"/>
<line x1="128.11" y1="261.50" x2="128.11" y2="259.90" stroke="#000" stroke-width="1.6"/>
<line x1="128.11" y1="147.00" x2="128.11" y2="148.60" stroke="#000" stroke-width="1.6"/>
<line x1="131.70" y1="261.50" x2="131.70" y2="258.50" stroke="#000" stroke-width="2.2"/>
<line x1="131.70" y1="147.00" x2="131.70" y2="150.00" stroke="#000" stroke-width="2.2"/>
<line x1="135.28" y1="261.50" x2="135.28" y2="259.90" stroke="#000" stroke-width="1.6"/>
<line x1="135.28" y1="147.00" x2="135.28" y2="148.60" stroke="#000" stroke-width="1.6"/>
<line x1="138.87" y1="261.50" x2="138.87" y2="259.90" stroke="#000" stroke-width="1.6"/>
<line x1="138.87" y1="147.00" x2="138.87" y2="148.60" stroke="#000" stroke-width="1.6"/>
<line x1="142.45" y1="261.50" x2="142.45" y2="259.90" stroke="#000" stroke-width="1.6"/>
<line x1="142.45" y1="147.00" x2="142.45" y2="148.60" stroke="#000" stroke-width="1.6"/>
<line x1="146.04" y1="261.50" x2="146.04" y2="259.90" stroke="#000" stroke-width="1.6"/>
<line x1="146.04" y1="147.00" x2="146.04" y2="148.60" stroke="#000" stroke-width="1.6"/>
<line x1="149.62" y1="261.50" x2="149.62" y2="259.90" stroke="#000" stroke-width="1.6"/>
<line x1="149.62" y1="147.00" x2="149.62" y2="148.60" stroke="#000" stroke-width="1.6"/>
<line x1="153.21" y1="261.50" x2="153.21" y2="259.90" stroke="#000" stroke-width="1.6"/>
<line x1="153.21" y1="147.00" x2="153.21" y2="148.60" stroke="#000" stroke-width="1.6"/>
<line x1="156.79" y1="261.50" x2="156.79" y2="259.90" stroke="#000" stroke-width="1.6"/>
<line x1="156.79" y1="147.00" x2="156.79" y2="148.60" stroke="#000" stroke-width="1.6"/>
<line x1="160.38" y1="261.50" x2="160.38" y2="259.90" stroke="#000" stroke-width="1.6"/>
<line x1="160.38" y1="147.00" x2="160.38" y2="148.60" stroke="#000" stroke-width="1.6"/>
<line x1="163.96" y1="261.50" x2="163.96" y2="259.90" stroke="#000" stroke-width="1.6"/>
<line x1="163.96" y1="147.00" x2="163.96" y2="148.60" stroke="#000" stroke-width="1.6"/>
<line x1="167.55" y1="261.50" x2="167.55" y2="258.50" stroke="#000" stroke-width="2.2"/>
<line x1="167.55" y1="147.00" x2="167.55" y2="150.00" stroke="#000" stroke-width="2.2"/>
<line x1="171.13" y1="261.50" x2="171.13" y2="259.90" stroke="#000" stroke-width="1.6"/>
<line x1="171.13" y1="147.00" x2="171.13" y2="148.60" stroke="#000" stroke-width="1.6"/>
<line x1="174.72" y1="261.50" x2="174.72" y2="259.90" stroke="#000" stroke-width="1.6"/>
<line x1="174.72" y1="147.00" x2="174.72" y2="148.60" stroke="#000" stroke-width="1.6"/>
<line x1="178.30" y1="261.50" x2="178.30" y2="259.90" stroke="#000" stroke-width="1.6"/>
<line x1="178.30" y1="147.00" x2="178.30" y2="148.60" stroke="#000" stroke-width="1.6"/>
<line x1="181.89" y1="261.50" x2="181.89" y2="259.90" stroke="#000" stroke-width="1.6"/>
<line x1="181.89" y1="147.00" x2="181.89" y2="148.60" stroke="#000" stroke-width="1.6"/>
<line x1="185.47" y1="261.50" x2="185.47" y2="259.90" stroke="#000" stroke-width="1.6"/>
<line x1="185.47" y1="147.00" x2="185.47" y2="148.60" stroke="#000" stroke-width="1.6"/>
<line x1="189.06" y1="261.50" x2="189.06" y2="259.90" stroke="#000" stroke-width="1.6"/>
<line x1="189.06" y1="147.00" x2="189.06" y2="148.60" stroke="#000" stroke-width="1.6"/>
<line x1="192.64" y1="261.50" x2="192.64" y2="259.90" stroke="#000" stroke-width="1.6"/>
<line x1="192.64" y1="147.00" x2="192.64" y2="148.60" stroke="#000" stroke-width="1.6"/>
<line x1="196.23" y1="261.50" x2="196.23" y2="259.90" stroke="#000" stroke-width="1.6"/>
<line x1="196.23" y1="147.00" x2="196.23" y2="148.60" stroke="#000" stroke-width="1.6"/>
<line x1="199.81" y1="261.50" x2="199.81" y2="259.90" stroke="#000" stroke-width="1.6"/>
<line x1="199.81" y1="147.00" x2="199.81" y2="148.60" stroke="#000" stroke-width="1.6"/>
<line x1="203.40" y1="261.50" x2="203.40" y2="258.50" stroke="#000" stroke-width="2.2"/>
<line x1="203.40" y1="147.00" x2="203.40" y2="150.00" stroke="#000" stroke-width="2.2"/>
<line x1="206.98" y1="261.50" x2="206.98" y2="259.90" stroke="#000" stroke-width="1.6"/>
<line x1="206.98" y1="147.00" x2="206.98" y2="148.60" stroke="#000" stroke-width="1.6"/>
<line x1="210.57" y1="261.50" x2="210.57" y2="259.90" stroke="#000" stroke-width="1.6"/>
<line x1="210.57" y1="147.00" x2="210.57" y2="148.60" stroke="#000" stroke-width="1.6"/>
<line x1="214.15" y1="261.50" x2="214.15" y2="259.90" stroke="#000" stroke-width="1.6"/>
<line x1="214.15" y1="147.00" x2="214.15" y2="148.60" stroke="#000" stroke-width="1.6"/>
<line x1="217.74" y1="261.50" x2="217.74" y2="259.90" stroke="#000" stroke-width="1.6"/>
<line x1="217.74" y1="147.00" x2="217.74" y2="148.60" stroke="#000" stroke-width="1.6"/>
<line x1="221.32" y1="261.50" x2="221.32" y2="259.90" stroke="#000" stroke-width="1.6"/>
<line x1="221.32" y1="147.00" x2="221.32" y2="148.60" stroke="#000" stroke-width="1.6"/>
<line x1="44.00" y1="257.96" x2="45.60" y2="257.96" stroke="#000" stroke-width="1.6"/>
<line x1="222.00" y1="257.96" x2="220.40" y2="257.96" stroke="#000" stroke-width="1.6"/>
<line x1="44.00" y1="252.44" x2="45.60" y2="252.44" stroke="#000" stroke-width="1.6"/>
<line x1="222.00" y1="252.44" x2="220.40" y2="252.44" stroke="#000" stroke-width="1.6"/>
<line x1="44.00" y1="246.92" x2="45.60" y2="246.92" stroke="#000" stroke-width="1.6"/>
<line x1="222.00" y1="246.92" x2="220.40" y2="246.92" stroke="#000" stroke-width="1.6"/>
<line x1="44.00" y1="241.40" x2="47.00" y2="241.40" stroke="#000" stroke-width="2.2"/>
<line x1="222.00" y1="241.40" x2="219.00" y2="241.40" stroke="#000" stroke-width="2.2"/>
<line x1="44.00" y1="235.88" x2="45.60" y2="235.88" stroke="#000" stroke-width="1.6"/>
<line x1="222.00" y1="235.88" x2="220.40" y2="235.88" stroke="#000" stroke-width="1.6"/>
<line x1="44.00" y1="230.36" x2="45.60" y2="230.36" stroke="#000" stroke-width="1.6"/>
<line x1="222.00" y1="230.36" x2="220.40" y2="230.36" stroke="#000" stroke-width="1.6"/>
<line x1="44.00" y1="224.84" x2="45.60" y2="224.84" stroke="#000" stroke-width="1.6"/>
<line x1="222.00" y1="224.84" x2="220.40" y2="224.84" stroke="#000" stroke-width="1.6"/>
<line x1="44.00" y1="219.32" x2="45.60" y2="219.32" stroke="#000" stroke-width="1.6"/>
<line x1="222.00" y1="219.32" x2="220.40" y2="219.32" stroke="#000" stroke-width="1.6"/>
<line x1="44.00" y1="213.80" x2="47.00" y2="213.80" stroke="#000" stroke-width="2.2"/>
<line x1="222.00" y1="213.80" x2="219.00" y2="213.80" stroke="#000" stroke-width="2.2"/>
<line x1="44.00" y1="208.28" x2="45.60" y2="208.28" stroke="#000" stroke-width="1.6"/>
<line x1="222.00" y1="208.28" x2="220.40" y2="208.28" stroke="#000" stroke-width="1.6"/>
<line x1="44.00" y1="202.76" x2="45.60" y2="202.76" stroke="#000" stroke-width="1.6"/>
<line x1="222.00" y1="202.76" x2="220.40" y2="202.76" stroke="#000" stroke-width="1.6"/>
<line x1="44.00" y1="197.24" x2="45.60" y2="197.24" stroke="#000" stroke-width="1.6"/>
<line x1="222.00" y1="197.24" x2="220.40" y2="197.24" stroke="#000" stroke-width="1.6"/>
<line x1="44.00" y1="191.72" x2="45.60" y2="191.72" stroke="#000" stroke-width="1.6"/>
<line x1="222.00" y1="191.72" x2="220.40" y2="191.72" stroke="#000" stroke-width="1.6"/>
<line x1="44.00" y1="186.20" x2="47.00" y2="186.20" stroke="#000" stroke-width="2.2"/>
<line x1="222.00" y1="186.20" x2="219.00" y2="186.20" stroke="#000" stroke-width="2.2"/>
<line x1="44.00" y1="180.68" x2="45.60" y2="180.68" stroke="#000" stroke-width="1.6"/>
<line x1="222.00" y1="180.68" x2="220.40" y2="180.68" stroke="#000" stroke-width="1.6"/>
<line x1="44.00" y1="175.16" x2="45.60" y2="175.16" stroke="#000" stroke-width="1.6"/>
<line x1="222.00" y1="175.16" x2="220.40" y2="175.16" stroke="#000" stroke-width="1.6"/>
<line x1="44.00" y1="169.64" x2="45.60" y2="169.64" stroke="#000" stroke-width="1.6"/>
<line x1="222.00" y1="169.64" x2="220.40" y2="169.64" stroke="#000" stroke-width="1.6"/>
<line x1="44.00" y1="164.12" x2="45.60" y2="164.12" stroke="#000" stroke-width="1.6"/>
<line x1="222.00" y1="164.12" x2="220.40" y2="164.12" stroke="#000" stroke-width="1.6"/>
<line x1="44.00" y1="158.60" x2="47.00" y2="158.60" stroke="#000" stroke-width="2.2"/>
<line x1="222.00" y1="158.60" x2="219.00" y2="158.60" stroke="#000" stroke-width="2.2"/>
<line x1="44.00" y1="153.08" x2="45.60" y2="153.08" stroke="#000" stroke-width="1.6"/>
<line x1="222.00" y1="153.08" x2="220.40" y2="153.08" stroke="#000" stroke-width="1.6"/>
<line x1="44.00" y1="147.56" x2="45.60" y2="147.56" stroke="#000" stroke-width="1.6"/>
<line x1="222.00" y1="147.56" x2="220.40" y2="147.56" stroke="#000" stroke-width="1.6"/>
<text x="60.00" y="278.80" font-size="10.5" text-anchor="middle" font-weight="bold" >3.1</text>
<text x="95.85" y="278.80" font-size="10.5" text-anchor="middle" font-weight="bold" >3.2</text>
<text x="131.70" y="278.80" font-size="10.5" text-anchor="middle" font-weight="bold" >3.3</text>
<text x="167.55" y="278.80" font-size="10.5" text-anchor="middle" font-weight="bold" >3.4</text>
<text x="203.40" y="278.80" font-size="10.5" text-anchor="middle" font-weight="bold" >3.5</text>
<text x="37.00" y="161.80" font-size="10.5" text-anchor="end" font-weight="bold" >0.85</text>
<text x="37.00" y="189.40" font-size="10.5" text-anchor="end" font-weight="bold" >0.8</text>
<text x="37.00" y="217.00" font-size="10.5" text-anchor="end" font-weight="bold" >0.75</text>
<text x="37.00" y="244.60" font-size="10.5" text-anchor="end" font-weight="bold" >0.7</text>
<polyline points="77.30,215.30 96.30,197.50 114.50,167.90 133.20,156.70 169.00,210.70 187.10,252.60" fill="none" stroke="#000" stroke-width="3.8" stroke-linejoin="miter"/>
<text x="54.80" y="171.40" font-size="18.8" text-anchor="start" font-weight="bold" >(b)</text>
<text x="104.00" y="290.20" font-size="14.5" text-anchor="start" font-weight="bold" >Time [s]</text>
<rect x="46.5" y="292" width="177.5" height="112" fill="none" stroke="#000" stroke-width="3"/>
<line x1="62.30" y1="402.50" x2="62.30" y2="400.00" stroke="#000" stroke-width="2.2"/>
<line x1="62.30" y1="293.50" x2="62.30" y2="296.00" stroke="#000" stroke-width="2.2"/>
<text x="62.30" y="419.60" font-size="10.5" text-anchor="middle" font-weight="bold" >0</text>
<line x1="98.30" y1="402.50" x2="98.30" y2="400.00" stroke="#000" stroke-width="2.2"/>
<line x1="98.30" y1="293.50" x2="98.30" y2="296.00" stroke="#000" stroke-width="2.2"/>
<text x="98.30" y="419.60" font-size="10.5" text-anchor="middle" font-weight="bold" >0.03</text>
<line x1="134.30" y1="402.50" x2="134.30" y2="400.00" stroke="#000" stroke-width="2.2"/>
<line x1="134.30" y1="293.50" x2="134.30" y2="296.00" stroke="#000" stroke-width="2.2"/>
<text x="134.30" y="419.60" font-size="10.5" text-anchor="middle" font-weight="bold" >0.06</text>
<line x1="170.30" y1="402.50" x2="170.30" y2="400.00" stroke="#000" stroke-width="2.2"/>
<line x1="170.30" y1="293.50" x2="170.30" y2="296.00" stroke="#000" stroke-width="2.2"/>
<text x="170.30" y="419.60" font-size="10.5" text-anchor="middle" font-weight="bold" >0.09</text>
<line x1="206.30" y1="402.50" x2="206.30" y2="400.00" stroke="#000" stroke-width="2.2"/>
<line x1="206.30" y1="293.50" x2="206.30" y2="296.00" stroke="#000" stroke-width="2.2"/>
<text x="206.30" y="419.60" font-size="10.5" text-anchor="middle" font-weight="bold" >0.12</text>
<line x1="48.00" y1="388.60" x2="50.50" y2="388.60" stroke="#000" stroke-width="2.2"/>
<line x1="222.50" y1="388.60" x2="220.00" y2="388.60" stroke="#000" stroke-width="2.2"/>
<text x="40.50" y="392.40" font-size="10.5" text-anchor="end" font-weight="bold" >1</text>
<line x1="48.00" y1="363.60" x2="50.50" y2="363.60" stroke="#000" stroke-width="2.2"/>
<line x1="222.50" y1="363.60" x2="220.00" y2="363.60" stroke="#000" stroke-width="2.2"/>
<text x="40.50" y="367.40" font-size="10.5" text-anchor="end" font-weight="bold" >1.05</text>
<line x1="48.00" y1="338.60" x2="50.50" y2="338.60" stroke="#000" stroke-width="2.2"/>
<line x1="222.50" y1="338.60" x2="220.00" y2="338.60" stroke="#000" stroke-width="2.2"/>
<text x="40.50" y="342.40" font-size="10.5" text-anchor="end" font-weight="bold" >1.1</text>
<line x1="48.00" y1="313.60" x2="50.50" y2="313.60" stroke="#000" stroke-width="2.2"/>
<line x1="222.50" y1="313.60" x2="220.00" y2="313.60" stroke="#000" stroke-width="2.2"/>
<text x="40.50" y="317.40" font-size="10.5" text-anchor="end" font-weight="bold" >1.15</text>
<clipPath id="cd"><rect x="48" y="293.5" width="174.5" height="109"/></clipPath>
<polyline points="61.70,386.40 76.70,388.20 96.00,388.60 116.30,388.20 126.00,387.00 134.20,384.60 140.00,380.50 145.00,377.40 152.20,374.90 163.00,371.30 173.80,366.00 184.00,361.50 195.30,357.00 206.10,351.60 214.00,347.00 222.50,343.60" fill="none" stroke="#ff0000" stroke-width="3.6" stroke-linejoin="round" clip-path="url(#cd)"/>
<text x="61.30" y="316.80" font-size="18.8" text-anchor="start" font-weight="bold" >(d)</text>
<text x="72.00" y="345.10" font-size="12.9" text-anchor="start" font-weight="bold" >flat q in the core</text>
<text x="127" y="429" font-size="15" font-family='"Liberation Serif", serif' font-style="italic">&#961;</text>
<text transform="translate(13.3,114) rotate(-90)" font-size="14.5" font-weight="bold">Frequency [kHz]</text>
<text transform="translate(13.3,285.5) rotate(-90)" font-size="14.5" font-weight="bold">Power(n=2)/Power(n=1)</text>
<text transform="translate(15.5,398.5) rotate(-90)" font-size="14.5" font-weight="bold">Safety factor q</text>
<defs><clipPath id="cp"><path d="M296.5 102 L298.5 97 L301.5 91.5 L305.5 88 L311 85.6 L320 84.3 L330 84 L345 90 L358 101 L370 113 L383 123 L399.3 139.3 L413.2 157.8 L422.4 176.3 L429.4 200 L433 215 L434 230 L432 250 L428 262 L422 277 L416 289 L410 299 L398 310 L386 318 L370 327.5 L356 333.5 L340 337.5 L329 338.3 L320 336 L311 331.5 L299 321 L292 311 L286.6 300 L281 288 L276 273 L272.5 258 L270.5 245 L269.7 230 L270 212 L271.8 203 L274 186.8 L277.3 170.6 L280.5 154.5 L283.7 138 L287.5 125 L290.5 119.5 L294 111Z"/></clipPath></defs>
<g clip-path="url(#cp)">
<path d="M381.0 199.6 382.0 199.6 382.8 200.0 383.2 201.0 383.0 202.0 381.9 203.0 380.0 203.0 379.3 202.0 379.5 201.0 380.3 200.0Z" fill="#000080" stroke="#000080" stroke-width="0.3" fill-rule="evenodd"/>
<path d="M386.0 191.9 389.0 191.9 390.4 193.0 390.7 195.0 389.2 199.0 387.1 202.0 384.5 204.0 382.0 204.8 379.0 204.4 377.4 203.0 376.9 201.0 377.1 199.0 378.0 196.7 379.0 195.4 381.0 193.9 385.7 192.0ZM380.3 200.0 379.5 201.0 379.3 202.0 380.0 203.0 381.9 203.0 383.0 202.0 383.2 201.0 382.8 200.0 382.0 199.6 381.0 199.6ZM345.0 237.9 346.0 238.0 347.4 240.0 348.0 242.0 348.1 245.0 347.3 248.0 346.0 250.3 345.0 251.2 343.0 251.6 341.0 250.4 340.0 249.0 338.8 246.0 338.7 243.0 339.6 241.0 340.6 240.0 344.6 238.0Z" fill="#00009b" stroke="#00009b" stroke-width="0.3" fill-rule="evenodd"/>
<path d="M389.0 186.0 392.0 186.0 394.0 186.6 395.9 188.0 396.6 189.0 397.3 191.0 397.4 193.0 397.0 195.0 396.0 197.0 391.5 202.0 387.1 205.0 384.6 206.0 382.0 206.5 380.0 206.4 378.0 205.8 376.1 204.0 375.1 201.0 375.4 197.0 376.7 193.0 378.3 191.0 381.0 189.1 385.0 187.1 388.9 186.0ZM385.7 192.0 381.0 193.9 379.0 195.4 378.0 196.7 377.1 199.0 376.9 201.0 377.4 203.0 379.0 204.4 382.0 204.8 384.5 204.0 387.1 202.0 389.2 199.0 390.7 195.0 390.4 193.0 389.0 191.9 386.0 191.9ZM341.0 236.9 345.0 236.2 347.0 237.0 349.2 240.0 350.1 243.0 350.1 248.0 349.0 253.3 347.1 257.0 345.0 258.3 343.0 258.3 340.0 256.3 337.7 253.0 335.9 248.0 335.4 244.0 336.0 240.5 338.0 238.3 340.7 237.0ZM344.6 238.0 340.6 240.0 339.6 241.0 338.7 243.0 338.8 246.0 340.0 249.0 341.0 250.4 343.0 251.6 345.0 251.2 346.0 250.3 347.3 248.0 348.1 245.0 348.0 242.0 347.4 240.0 346.0 238.0 345.0 237.9Z" fill="#0000d6" stroke="#0000d6" stroke-width="0.3" fill-rule="evenodd"/>
<path d="M388.0 182.9 391.0 182.6 394.0 182.9 396.8 184.0 399.0 185.9 400.3 188.0 401.2 191.0 401.1 194.0 400.2 197.0 399.0 199.1 396.2 202.0 389.9 206.0 384.0 207.9 381.0 208.1 378.0 207.5 376.0 206.3 375.0 205.0 373.8 202.0 373.6 197.0 375.0 191.0 376.2 189.0 378.4 187.0 383.0 184.6 387.6 183.0ZM388.9 186.0 385.0 187.1 381.0 189.1 378.3 191.0 376.7 193.0 375.4 197.0 375.1 201.0 376.1 204.0 378.0 205.8 380.0 206.4 382.0 206.5 384.6 206.0 387.1 205.0 391.5 202.0 396.0 197.0 397.0 195.0 397.4 193.0 397.3 191.0 396.6 189.0 395.9 188.0 394.0 186.6 392.0 186.0 389.0 186.0ZM340.0 235.0 344.0 234.5 347.0 235.2 350.0 238.4 351.9 243.0 352.1 250.0 351.0 257.7 349.0 261.9 347.8 263.0 346.0 263.8 344.0 263.8 342.0 263.1 339.0 260.6 335.9 256.0 333.5 249.0 332.8 243.0 333.5 239.0 334.1 238.0 336.0 236.4 339.8 235.0ZM340.7 237.0 338.0 238.3 336.0 240.5 335.4 244.0 335.9 248.0 337.7 253.0 340.0 256.3 343.0 258.3 345.0 258.3 347.1 257.0 349.0 253.3 350.1 248.0 350.1 243.0 349.2 240.0 347.0 237.0 345.0 236.2 341.0 236.9Z" fill="#0000ff" stroke="#0000ff" stroke-width="0.3" fill-rule="evenodd"/>
<path d="M386.0 180.8 390.0 180.1 394.0 180.3 397.0 181.2 400.0 183.0 402.5 186.0 403.8 189.0 404.2 193.0 403.6 197.0 402.3 200.0 400.7 202.0 398.0 204.2 394.0 206.5 390.0 208.1 386.0 209.2 382.0 209.6 378.0 209.3 375.0 207.4 373.4 205.0 372.6 203.0 372.1 198.0 373.0 191.0 374.1 188.0 376.0 185.5 380.0 183.1 385.3 181.0ZM387.6 183.0 383.0 184.6 378.4 187.0 376.2 189.0 375.0 191.0 373.6 197.0 373.8 202.0 375.0 205.0 376.0 206.3 378.0 207.5 381.0 208.1 384.0 207.9 389.9 206.0 396.2 202.0 399.0 199.1 400.2 197.0 401.1 194.0 401.2 191.0 400.3 188.0 399.0 185.9 396.8 184.0 394.0 182.9 391.0 182.6 388.0 182.9ZM340.0 232.9 345.0 232.9 348.0 234.1 350.0 235.9 351.5 238.0 353.0 241.0 353.5 243.0 354.0 253.0 353.0 261.3 352.0 264.0 350.8 266.0 349.0 267.6 347.0 268.3 345.0 268.3 343.0 267.8 340.2 266.0 338.0 263.9 334.0 257.7 331.4 250.0 330.6 242.0 330.9 239.0 331.6 237.0 334.0 234.7 339.2 233.0ZM339.8 235.0 336.0 236.4 334.1 238.0 333.5 239.0 332.8 243.0 333.5 249.0 335.9 256.0 339.0 260.6 342.0 263.1 344.0 263.8 346.0 263.8 347.8 263.0 349.0 261.9 351.0 257.7 352.1 250.0 351.9 243.0 350.0 238.4 347.0 235.2 344.0 234.5 340.0 235.0Z" fill="#0031ff" stroke="#0031ff" stroke-width="0.3" fill-rule="evenodd"/>
<path d="M389.0 178.0 393.0 177.9 397.0 178.8 400.0 180.2 403.3 183.0 405.3 186.0 406.6 190.0 406.8 195.0 406.0 199.1 404.6 202.0 402.9 204.0 400.0 206.1 395.0 208.5 390.0 210.1 385.1 211.0 380.0 211.2 377.0 210.7 375.0 209.6 373.0 207.3 371.8 205.0 371.0 202.0 370.7 195.0 372.1 188.0 374.0 184.4 376.0 182.6 383.0 179.4 389.0 178.0ZM385.3 181.0 380.0 183.1 376.0 185.5 374.1 188.0 373.0 191.0 372.1 198.0 372.6 203.0 373.4 205.0 375.0 207.4 378.0 209.3 382.0 209.6 386.0 209.2 390.0 208.1 394.0 206.5 398.0 204.2 400.7 202.0 402.3 200.0 403.6 197.0 404.2 193.0 403.8 189.0 402.5 186.0 400.0 183.0 397.0 181.2 394.0 180.3 390.0 180.1 386.0 180.8ZM339.0 231.0 345.0 231.2 349.0 232.8 351.0 234.7 352.7 237.0 354.9 242.0 355.5 247.0 355.8 255.0 355.6 260.0 355.0 263.9 353.9 267.0 352.0 270.0 350.0 271.5 348.0 272.2 346.0 272.3 343.0 271.4 340.0 269.5 337.0 266.6 334.3 263.0 332.2 259.0 329.4 251.0 328.4 243.0 328.5 239.0 329.2 236.0 330.5 234.0 332.0 232.9 335.0 231.7 338.8 231.0ZM339.2 233.0 334.0 234.7 331.6 237.0 330.9 239.0 330.6 242.0 331.4 250.0 334.0 257.7 338.0 263.9 340.2 266.0 343.0 267.8 345.0 268.3 347.0 268.3 349.0 267.6 350.8 266.0 352.0 264.0 353.0 261.3 354.0 253.0 353.5 243.0 353.0 241.0 351.5 238.0 350.0 235.9 348.0 234.1 345.0 232.9 340.0 232.9Z" fill="#0064ff" stroke="#0064ff" stroke-width="0.3" fill-rule="evenodd"/>
<path d="M389.0 176.0 394.0 176.0 398.0 176.9 402.0 178.9 405.4 182.0 407.8 186.0 409.2 191.0 409.3 196.0 408.3 201.0 406.8 204.0 405.0 206.0 402.0 208.0 397.3 210.0 392.0 211.5 386.0 212.6 380.0 212.8 376.0 212.2 374.0 210.9 372.0 208.6 370.7 206.0 369.5 202.0 369.1 198.0 369.3 194.0 369.9 190.0 371.0 186.1 373.0 182.3 376.0 180.1 383.0 177.2 388.7 176.0ZM389.0 178.0 383.0 179.4 376.0 182.6 374.0 184.4 372.1 188.0 370.7 195.0 371.0 202.0 371.8 205.0 373.0 207.3 375.0 209.6 377.0 210.7 380.0 211.2 385.1 211.0 390.0 210.1 395.0 208.5 400.0 206.1 402.9 204.0 404.6 202.0 406.0 199.1 406.8 195.0 406.6 190.0 405.3 186.0 403.3 183.0 400.0 180.2 397.0 178.8 393.0 177.9 389.0 178.0ZM339.0 229.0 346.0 229.5 350.0 231.3 352.0 233.2 354.0 236.0 355.6 239.0 356.5 242.0 357.6 257.0 357.5 262.0 356.9 266.0 355.6 270.0 354.0 272.7 352.0 274.7 349.0 275.9 346.0 275.8 343.0 274.7 339.0 272.0 336.0 269.0 333.0 265.0 330.7 261.0 328.6 256.0 327.2 251.0 326.4 246.0 326.2 241.0 326.5 237.0 327.3 234.0 328.7 232.0 331.0 230.6 335.0 229.4 338.5 229.0ZM338.8 231.0 335.0 231.7 332.0 232.9 330.5 234.0 329.2 236.0 328.5 239.0 328.4 243.0 329.4 251.0 332.2 259.0 334.3 263.0 337.0 266.6 340.0 269.5 343.0 271.4 346.0 272.3 348.0 272.2 350.0 271.5 352.0 270.0 353.9 267.0 355.0 263.9 355.6 260.0 355.8 255.0 355.5 247.0 354.9 242.0 352.7 237.0 351.0 234.7 349.0 232.8 345.0 231.2 339.0 231.0Z" fill="#0099ff" stroke="#0099ff" stroke-width="0.3" fill-rule="evenodd"/>
<path d="M389.0 173.9 395.0 173.9 400.0 175.1 404.0 177.4 407.6 181.0 410.3 186.0 411.6 191.0 411.8 197.0 411.0 202.0 409.7 205.0 408.0 207.3 405.0 209.5 401.0 211.2 394.2 213.0 388.0 214.0 381.0 214.4 375.9 214.0 373.7 213.0 371.5 211.0 369.7 208.0 368.7 205.0 367.9 201.0 367.6 196.0 368.1 191.0 369.0 186.9 371.0 181.9 373.6 179.0 381.0 175.7 388.1 174.0ZM388.7 176.0 383.0 177.2 376.0 180.1 373.0 182.3 371.0 186.1 369.9 190.0 369.3 194.0 369.1 198.0 369.5 202.0 370.7 206.0 372.0 208.6 374.0 210.9 376.0 212.2 380.0 212.8 386.0 212.6 392.0 211.5 397.3 210.0 402.0 208.0 405.0 206.0 406.8 204.0 408.3 201.0 409.3 196.0 409.2 191.0 407.8 186.0 405.4 182.0 402.0 178.9 398.0 176.9 394.0 176.0 389.0 176.0ZM338.0 227.0 346.0 227.6 349.0 228.3 351.0 229.2 354.0 232.4 356.4 237.0 357.5 240.0 358.3 245.0 359.3 256.0 359.4 262.0 358.9 267.0 358.0 271.0 356.0 275.7 354.0 278.4 351.0 280.2 348.0 280.2 344.0 278.7 340.0 276.1 336.0 272.5 333.0 268.9 329.8 264.0 327.5 259.0 325.5 253.0 324.5 248.0 324.0 242.0 324.3 236.0 325.2 232.0 326.6 230.0 329.0 228.6 333.0 227.6 337.7 227.0ZM338.5 229.0 335.0 229.4 331.0 230.6 328.7 232.0 327.3 234.0 326.5 237.0 326.2 241.0 326.4 246.0 327.2 251.0 328.6 256.0 330.7 261.0 333.0 265.0 336.0 269.0 339.0 272.0 343.0 274.7 346.0 275.8 349.0 275.9 352.0 274.7 354.0 272.7 355.6 270.0 356.9 266.0 357.5 262.0 357.6 257.0 356.5 242.0 355.6 239.0 354.0 236.0 352.0 233.2 350.0 231.3 346.0 229.5 339.0 229.0Z" fill="#00cdff" stroke="#00cdff" stroke-width="0.3" fill-rule="evenodd"/>
<path d="M393.0 171.0 399.0 171.6 404.0 173.7 408.0 176.9 411.0 181.0 413.4 187.0 414.4 193.0 414.2 200.0 412.6 206.0 410.7 209.0 408.2 211.0 405.0 212.4 400.0 213.8 393.0 215.1 385.0 215.9 377.0 215.9 373.0 215.0 370.0 213.0 368.5 211.0 367.3 207.0 366.4 201.0 366.1 196.0 366.4 191.0 367.3 187.0 369.0 182.0 371.5 178.0 375.0 175.8 385.0 172.3 393.0 171.0ZM388.1 174.0 381.0 175.7 373.6 179.0 371.0 181.9 369.0 186.9 368.1 191.0 367.6 196.0 367.9 201.0 368.7 205.0 369.7 208.0 371.5 211.0 373.7 213.0 375.9 214.0 381.0 214.4 388.0 214.0 394.2 213.0 401.0 211.2 405.0 209.5 408.0 207.3 409.7 205.0 411.0 202.0 411.8 197.0 411.6 191.0 410.3 186.0 407.6 181.0 404.0 177.4 400.0 175.1 395.0 173.9 389.0 173.9ZM360.0 215.7 362.0 215.5 363.5 216.0 364.3 217.0 364.4 218.0 364.1 220.0 362.0 223.1 356.2 227.0 355.8 229.0 356.4 232.0 358.6 238.0 359.4 242.0 361.0 258.0 360.9 267.0 358.2 286.0 356.6 288.0 354.0 288.5 352.0 288.1 349.0 286.8 342.0 281.8 335.0 275.2 329.5 268.0 325.9 261.0 323.2 253.0 321.9 245.0 321.8 237.0 323.1 230.0 324.0 228.2 325.4 227.0 328.4 226.0 335.0 225.0 348.0 225.6 352.0 225.1 353.3 224.0 354.9 220.0 356.0 218.3 359.0 216.0ZM337.7 227.0 333.0 227.6 329.0 228.6 326.6 230.0 325.2 232.0 324.3 236.0 324.0 242.0 324.5 248.0 325.5 253.0 327.5 259.0 329.8 264.0 333.0 268.9 336.0 272.5 340.0 276.1 344.0 278.7 348.0 280.2 351.0 280.2 354.0 278.4 356.0 275.7 358.0 271.0 358.9 267.0 359.4 262.0 359.3 256.0 358.3 245.0 357.5 240.0 356.4 237.0 354.0 232.4 351.0 229.2 349.0 228.3 346.0 227.6 338.0 227.0Z" fill="#16ffe1" stroke="#16ffe1" stroke-width="0.3" fill-rule="evenodd"/>
<path d="M394.0 166.9 400.0 167.5 406.0 169.9 411.0 173.7 414.2 178.0 416.5 184.0 417.5 191.0 417.4 199.0 416.3 205.0 414.7 209.0 413.0 211.3 410.0 213.4 406.0 214.8 399.0 216.2 390.0 217.2 376.0 217.7 370.0 217.5 368.0 219.1 365.2 223.0 359.5 229.0 358.9 232.0 360.6 240.0 362.6 259.0 362.9 275.0 365.9 288.0 366.4 292.0 365.4 295.0 362.9 297.0 359.0 297.8 354.0 297.1 350.0 295.4 347.0 293.5 341.0 288.1 330.7 275.0 327.4 270.0 324.8 265.0 321.4 256.0 319.5 246.0 319.4 236.0 320.8 228.0 322.4 225.0 325.0 223.7 333.0 223.0 346.0 223.3 349.0 222.7 351.0 221.2 354.0 217.2 356.0 215.3 358.0 213.9 363.6 211.0 364.9 209.0 365.1 207.0 364.5 196.0 365.0 190.0 367.0 183.0 370.0 176.9 373.0 174.2 379.0 171.4 387.0 168.2 393.1 167.0ZM393.0 171.0 385.0 172.3 375.0 175.8 371.5 178.0 369.0 182.0 367.3 187.0 366.4 191.0 366.1 196.0 366.4 201.0 367.3 207.0 368.5 211.0 370.0 213.0 373.0 215.0 377.0 215.9 385.0 215.9 393.0 215.1 400.0 213.8 405.0 212.4 408.2 211.0 410.7 209.0 412.6 206.0 414.2 200.0 414.4 193.0 413.4 187.0 411.0 181.0 408.0 176.9 404.0 173.7 399.0 171.6 393.0 171.0ZM359.0 216.0 356.0 218.3 354.9 220.0 353.3 224.0 352.0 225.1 348.0 225.6 335.0 225.0 328.4 226.0 325.4 227.0 324.0 228.2 323.1 230.0 321.8 237.0 321.9 245.0 323.2 253.0 325.9 261.0 329.5 268.0 335.0 275.2 342.0 281.8 349.0 286.8 352.0 288.1 354.0 288.5 356.6 288.0 358.2 286.0 360.9 267.0 361.0 258.0 359.4 242.0 358.6 238.0 356.4 232.0 355.8 229.0 356.2 227.0 362.0 223.1 364.1 220.0 364.4 218.0 364.3 217.0 363.5 216.0 362.0 215.5 360.0 215.7Z" fill="#3cffba" stroke="#3cffba" stroke-width="0.3" fill-rule="evenodd"/>
<path d="M390.0 160.8 394.0 160.2 398.0 160.2 405.0 161.7 409.0 163.4 413.0 165.8 418.7 171.0 422.5 177.0 423.7 180.0 424.5 184.0 424.3 190.0 422.4 200.0 420.8 206.0 419.0 210.0 416.9 213.0 414.0 215.2 410.0 216.6 402.0 217.9 391.0 218.8 378.0 219.3 372.0 220.0 369.0 221.9 362.4 229.0 361.4 231.0 361.2 233.0 365.3 272.0 366.5 276.0 369.0 282.0 372.0 287.7 377.7 296.0 378.5 298.0 378.6 300.0 378.0 302.2 376.0 305.0 374.0 306.8 371.0 308.6 368.0 309.7 364.0 310.5 360.0 310.5 356.0 309.8 352.0 308.6 347.0 306.1 343.0 303.4 339.0 299.9 335.4 296.0 331.6 291.0 328.6 286.0 325.6 280.0 321.4 270.0 319.0 262.3 318.4 257.0 318.6 255.0 317.1 247.0 316.4 240.0 316.2 232.0 317.2 227.0 318.4 224.0 321.1 222.0 326.0 221.7 335.0 221.9 340.0 221.2 344.0 221.3 347.0 220.8 349.0 219.8 354.7 214.0 361.0 209.3 362.6 207.0 363.1 205.0 362.9 194.0 363.5 190.0 365.1 185.0 368.6 177.0 373.0 171.1 378.0 166.8 383.0 163.5 389.3 161.0ZM393.1 167.0 387.0 168.2 379.0 171.4 373.0 174.2 370.0 176.9 367.0 183.0 365.0 190.0 364.5 196.0 365.1 207.0 364.9 209.0 363.6 211.0 358.0 213.9 356.0 215.3 354.0 217.2 351.0 221.2 349.0 222.7 346.0 223.3 333.0 223.0 325.0 223.7 322.4 225.0 320.8 228.0 319.4 236.0 319.5 246.0 321.4 256.0 324.8 265.0 327.4 270.0 330.7 275.0 341.0 288.1 347.0 293.5 350.0 295.4 354.0 297.1 359.0 297.8 362.9 297.0 365.4 295.0 366.4 292.0 365.9 288.0 362.9 275.0 362.6 259.0 360.6 240.0 358.9 232.0 359.5 229.0 365.2 223.0 368.0 219.1 370.0 217.5 376.0 217.7 390.0 217.2 399.0 216.2 406.0 214.8 410.0 213.4 413.0 211.3 414.7 209.0 416.3 205.0 417.4 199.0 417.5 191.0 416.5 184.0 414.2 178.0 411.0 173.7 406.0 169.9 400.0 167.5 394.0 166.9Z" fill="#66ff90" stroke="#66ff90" stroke-width="0.3" fill-rule="evenodd"/>
<path d="M269.0 77.0 437.0 77.0 437.0 259.8 434.4 250.0 429.8 240.0 419.4 224.0 417.0 221.5 415.0 220.3 412.0 219.7 408.0 219.7 379.0 220.8 374.0 221.6 372.0 222.4 370.0 223.7 365.7 228.0 363.7 231.0 363.2 234.0 364.2 248.0 366.3 265.0 367.4 270.0 370.0 275.9 374.0 282.2 377.0 285.6 381.0 288.5 386.0 290.5 399.0 292.9 407.0 296.0 411.0 297.2 416.0 297.7 420.0 297.3 423.0 296.4 426.0 295.0 430.8 291.0 433.0 288.1 434.7 285.0 437.0 278.1 437.0 354.0 268.0 354.0 268.0 77.0ZM355.8 110.0 355.0 110.4 352.0 110.9 349.0 112.8 343.0 118.7 340.8 122.0 338.7 126.0 338.2 129.0 337.6 130.0 337.0 133.9 334.7 139.0 331.0 142.8 328.0 145.0 324.0 147.2 319.0 147.3 314.6 143.0 313.4 139.0 313.1 121.0 311.0 117.7 310.0 116.9 307.0 115.7 304.0 115.9 300.8 117.0 295.7 122.0 292.0 126.8 291.4 129.0 289.9 132.0 289.4 134.0 287.9 137.0 287.4 140.0 285.9 144.0 285.4 147.0 284.7 149.0 284.4 152.0 283.7 154.0 283.4 157.0 282.7 159.0 282.4 164.0 281.7 166.0 281.6 173.0 280.7 176.0 280.7 187.0 283.9 199.0 288.0 206.0 295.0 211.1 296.0 211.3 301.0 210.0 302.1 208.0 308.6 188.0 310.1 185.0 311.6 180.0 312.5 178.0 314.4 176.0 316.2 175.0 318.0 173.4 319.0 172.9 320.4 174.0 320.5 176.0 319.7 178.0 319.2 181.0 317.2 187.0 314.8 192.0 314.4 194.0 311.9 199.0 311.4 201.0 308.9 206.0 307.9 209.0 307.5 212.0 306.9 213.0 306.5 217.0 305.7 219.0 305.7 231.0 306.7 234.0 306.7 239.0 307.7 242.0 307.7 246.0 308.6 248.0 308.8 252.0 309.6 254.0 310.0 256.9 311.6 261.0 312.0 263.5 315.0 265.3 316.0 264.6 316.7 263.0 316.4 255.0 316.0 250.6 315.3 248.0 315.1 243.0 314.5 240.0 314.6 235.0 314.0 232.0 314.1 230.0 314.9 228.0 315.2 224.0 318.0 221.6 320.0 220.4 321.0 220.2 336.0 220.5 346.0 218.9 350.0 216.5 353.0 213.3 358.0 209.0 359.9 207.0 360.9 205.0 361.3 202.0 361.4 195.0 362.0 191.3 364.8 183.0 368.3 175.0 375.0 165.3 379.3 161.0 392.0 151.4 394.3 149.0 395.3 147.0 395.9 143.0 395.2 138.0 391.0 133.5 390.0 131.9 388.0 130.6 375.2 118.0 366.0 111.9 359.0 109.6 356.0 109.9ZM389.3 161.0 383.0 163.5 378.0 166.8 373.0 171.1 368.6 177.0 365.1 185.0 363.5 190.0 362.9 194.0 363.1 205.0 362.6 207.0 361.0 209.3 354.7 214.0 349.0 219.8 347.0 220.8 344.0 221.3 340.0 221.2 335.0 221.9 326.0 221.7 321.1 222.0 318.4 224.0 317.2 227.0 316.2 232.0 316.4 240.0 317.1 247.0 318.6 255.0 318.4 257.0 319.0 262.3 321.4 270.0 325.6 280.0 328.6 286.0 331.6 291.0 335.4 296.0 339.0 299.9 343.0 303.4 347.0 306.1 352.0 308.6 356.0 309.8 360.0 310.5 364.0 310.5 368.0 309.7 371.0 308.6 374.0 306.8 376.0 305.0 378.0 302.2 378.6 300.0 378.5 298.0 377.7 296.0 372.0 287.7 369.0 282.0 366.5 276.0 365.3 272.0 361.2 233.0 361.4 231.0 362.4 229.0 369.0 221.9 372.0 220.0 378.0 219.3 391.0 218.8 402.0 217.9 410.0 216.6 414.0 215.2 416.9 213.0 419.0 210.0 420.8 206.0 422.4 200.0 424.3 190.0 424.5 184.0 423.7 180.0 422.5 177.0 418.7 171.0 413.0 165.8 409.0 163.4 405.0 161.7 398.0 160.2 394.0 160.2 390.0 160.8ZM309.9 279.0 308.0 280.1 306.7 283.0 306.9 286.0 308.9 291.0 311.0 294.2 314.0 297.1 317.0 299.1 321.0 300.3 322.0 300.0 324.1 298.0 325.1 296.0 325.0 293.7 323.0 288.6 320.0 284.1 317.0 281.1 313.0 279.0 310.0 278.9Z" fill="#90ff66" stroke="#90ff66" stroke-width="0.3" fill-rule="evenodd"/>
<path d="M356.0 109.9 359.0 109.6 366.0 111.9 375.2 118.0 388.0 130.6 390.0 131.9 391.0 133.5 395.2 138.0 395.9 143.0 395.3 147.0 394.3 149.0 392.0 151.4 379.3 161.0 375.0 165.3 368.3 175.0 364.8 183.0 362.0 191.3 361.4 195.0 361.3 202.0 360.9 205.0 359.9 207.0 358.0 209.0 353.0 213.3 350.0 216.5 346.0 218.9 336.0 220.5 321.0 220.2 320.0 220.4 318.0 221.6 315.2 224.0 314.9 228.0 314.1 230.0 314.0 232.0 314.6 235.0 314.5 240.0 315.1 243.0 315.3 248.0 316.0 250.6 316.4 255.0 316.7 263.0 316.0 264.6 315.0 265.3 312.0 263.5 311.6 261.0 310.0 256.9 309.6 254.0 308.8 252.0 308.6 248.0 307.7 246.0 307.7 242.0 306.7 239.0 306.7 234.0 305.7 231.0 305.7 219.0 306.5 217.0 306.9 213.0 307.5 212.0 307.9 209.0 308.9 206.0 311.4 201.0 311.9 199.0 314.4 194.0 314.8 192.0 317.2 187.0 319.2 181.0 319.7 178.0 320.5 176.0 320.4 174.0 319.0 172.9 318.0 173.4 316.2 175.0 314.4 176.0 312.5 178.0 311.6 180.0 310.1 185.0 308.6 188.0 302.1 208.0 301.0 210.0 296.0 211.3 295.0 211.1 288.0 206.0 283.9 199.0 280.7 187.0 280.7 176.0 281.6 173.0 281.7 166.0 282.4 164.0 282.7 159.0 283.4 157.0 283.7 154.0 284.4 152.0 284.7 149.0 285.4 147.0 285.9 144.0 287.4 140.0 287.9 137.0 289.4 134.0 289.9 132.0 291.4 129.0 292.0 126.8 295.7 122.0 300.8 117.0 304.0 115.9 307.0 115.7 310.0 116.9 311.0 117.7 313.1 121.0 313.4 139.0 314.6 143.0 319.0 147.3 324.0 147.2 328.0 145.0 331.0 142.8 334.7 139.0 337.0 133.9 337.6 130.0 338.2 129.0 338.7 126.0 340.8 122.0 343.0 118.7 349.0 112.8 352.0 110.9 355.0 110.4 355.8 110.0ZM348.4 138.0 344.0 139.4 341.0 141.2 338.0 143.8 335.7 147.0 333.4 153.0 332.6 163.0 332.0 165.3 330.7 168.0 323.6 179.0 320.4 187.0 318.4 197.0 318.2 203.0 318.7 208.0 319.6 212.0 320.5 214.0 322.4 216.0 325.0 217.1 338.0 218.7 341.0 218.6 345.0 217.6 350.0 215.0 353.0 211.2 357.1 207.0 358.5 205.0 359.2 203.0 360.1 195.0 363.3 183.0 367.4 171.0 370.7 164.0 372.9 158.0 373.7 154.0 373.5 150.0 371.6 146.0 368.9 143.0 365.0 140.4 360.0 138.4 354.0 137.5 349.0 137.9ZM402.0 220.0 413.0 219.8 416.0 220.8 418.6 223.0 425.5 233.0 430.3 241.0 433.6 248.0 436.4 257.0 437.0 259.8 437.0 278.1 435.6 283.0 433.1 288.0 429.9 292.0 426.0 295.0 421.0 297.0 416.0 297.7 411.0 297.2 407.0 296.0 399.0 292.9 386.0 290.5 381.0 288.5 377.0 285.6 373.0 280.8 369.0 274.0 367.0 268.7 364.3 249.0 363.4 239.0 363.3 233.0 363.7 231.0 364.9 229.0 370.0 223.7 372.0 222.4 375.0 221.3 380.0 220.7 401.4 220.0ZM375.3 223.0 371.3 225.0 367.0 229.2 365.4 232.0 364.8 237.0 365.4 247.0 368.0 264.1 370.0 269.7 374.0 275.9 377.0 279.3 381.0 282.5 384.0 284.0 388.0 285.1 392.0 285.5 403.0 285.3 413.0 285.8 417.4 285.0 421.3 283.0 425.0 279.0 427.3 274.0 428.5 268.0 428.3 261.0 427.1 255.0 424.7 248.0 417.4 232.0 414.0 226.0 411.0 223.2 407.0 222.2 382.0 222.2 376.0 222.8ZM310.0 278.9 313.0 279.0 317.0 281.1 320.0 284.1 323.0 288.6 325.0 293.7 325.1 296.0 324.1 298.0 322.0 300.0 321.0 300.3 317.0 299.1 314.0 297.1 311.0 294.2 308.9 291.0 306.9 286.0 306.7 283.0 308.0 280.1 309.9 279.0Z" fill="#baff3c" stroke="#baff3c" stroke-width="0.3" fill-rule="evenodd"/>
<path d="M349.0 137.9 354.0 137.5 360.0 138.4 365.0 140.4 368.9 143.0 371.6 146.0 373.5 150.0 373.7 154.0 372.9 158.0 370.7 164.0 367.4 171.0 363.3 183.0 360.1 195.0 359.2 203.0 358.5 205.0 357.1 207.0 353.0 211.2 350.0 215.0 345.0 217.6 341.0 218.6 338.0 218.7 325.0 217.1 322.4 216.0 320.5 214.0 319.6 212.0 318.7 208.0 318.2 203.0 318.4 197.0 320.4 187.0 323.6 179.0 330.7 168.0 332.0 165.3 332.6 163.0 333.4 153.0 335.7 147.0 338.0 143.8 341.0 141.2 344.0 139.4 348.4 138.0ZM348.8 147.0 344.7 149.0 342.6 151.0 341.2 153.0 339.9 156.0 338.4 162.0 337.2 165.0 327.2 179.0 325.0 183.2 323.2 188.0 321.9 193.0 321.2 198.0 321.1 203.0 321.5 207.0 322.3 210.0 323.3 212.0 325.0 213.6 328.0 214.8 341.0 217.0 343.0 216.9 346.0 216.0 349.0 214.3 350.0 213.2 355.6 206.0 357.5 202.0 360.6 186.0 363.9 175.0 364.2 168.0 365.2 161.0 365.2 158.0 364.4 155.0 363.5 153.0 362.0 150.9 359.9 149.0 358.0 147.9 355.0 146.8 352.0 146.5 349.0 147.0ZM376.0 222.8 382.0 222.2 407.0 222.2 411.0 223.2 414.0 226.0 417.4 232.0 424.7 248.0 427.1 255.0 428.3 261.0 428.5 268.0 427.3 274.0 425.0 279.0 421.3 283.0 417.4 285.0 413.0 285.8 403.0 285.3 392.0 285.5 388.0 285.1 384.0 284.0 381.0 282.5 377.0 279.3 374.0 275.9 370.0 269.7 368.0 264.1 365.4 247.0 364.8 237.0 365.4 232.0 367.0 229.2 371.3 225.0 375.3 223.0ZM378.7 224.0 374.4 225.0 371.0 227.3 367.8 231.0 366.5 235.0 366.5 244.0 368.5 258.0 370.0 264.0 373.0 269.4 377.0 274.1 381.0 277.4 385.0 279.4 390.0 280.6 397.0 280.8 405.0 279.9 412.0 278.3 416.8 276.0 419.6 273.0 421.5 269.0 422.3 264.0 422.1 259.0 420.5 251.0 417.7 242.0 414.4 234.0 411.1 228.0 408.0 225.3 404.0 224.2 395.0 223.8 379.0 224.0Z" fill="#e4ff13" stroke="#e4ff13" stroke-width="0.3" fill-rule="evenodd"/>
<path d="M349.0 147.0 352.0 146.5 355.0 146.8 358.0 147.9 359.9 149.0 362.0 150.9 363.5 153.0 364.4 155.0 365.2 158.0 365.2 161.0 364.2 168.0 363.9 175.0 360.6 186.0 357.5 202.0 355.6 206.0 350.0 213.2 349.0 214.3 346.0 216.0 343.0 216.9 341.0 217.0 328.0 214.8 325.0 213.6 323.3 212.0 322.3 210.0 321.5 207.0 321.1 203.0 321.2 198.0 321.9 193.0 323.2 188.0 325.0 183.2 327.2 179.0 337.2 165.0 338.4 162.0 339.9 156.0 341.2 153.0 342.6 151.0 344.7 149.0 348.8 147.0ZM348.4 153.0 346.9 154.0 345.1 156.0 340.2 166.0 329.0 181.2 326.2 187.0 324.4 193.0 323.6 198.0 323.5 202.0 324.0 206.0 325.0 208.9 326.9 211.0 328.8 212.0 336.0 214.1 343.0 214.8 346.0 214.1 348.0 212.9 351.0 210.2 354.2 206.0 356.3 202.0 357.4 198.0 358.6 187.0 361.7 175.0 360.5 160.0 359.0 156.0 356.0 153.2 353.0 152.2 351.0 152.2 349.0 152.7ZM379.0 224.0 395.0 223.8 404.0 224.2 408.0 225.3 411.1 228.0 414.4 234.0 417.7 242.0 420.5 251.0 422.1 259.0 422.3 264.0 421.5 269.0 419.6 273.0 416.8 276.0 412.0 278.3 405.0 279.9 397.0 280.8 390.0 280.6 385.0 279.4 381.0 277.4 377.0 274.1 373.0 269.4 370.0 264.0 368.5 258.0 366.5 244.0 366.5 235.0 367.8 231.0 371.0 227.3 374.4 225.0 378.7 224.0ZM376.4 226.0 373.0 227.6 369.6 231.0 368.2 234.0 367.6 238.0 368.0 246.0 369.9 257.0 371.5 262.0 374.0 266.1 378.0 270.3 382.0 273.3 386.0 275.3 391.0 276.5 397.0 276.8 403.0 276.0 408.0 274.4 412.0 272.0 414.9 269.0 416.4 266.0 417.5 261.0 417.6 256.0 416.5 249.0 414.5 242.0 411.5 235.0 408.6 230.0 407.0 228.3 405.0 227.0 401.0 226.0 385.0 225.4 377.0 225.8Z" fill="#ffde00" stroke="#ffde00" stroke-width="0.3" fill-rule="evenodd"/>
<path d="M349.0 152.7 351.0 152.2 353.0 152.2 356.0 153.2 359.0 156.0 360.5 160.0 361.7 175.0 358.6 187.0 357.4 198.0 356.3 202.0 354.2 206.0 351.0 210.2 348.0 212.9 346.0 214.1 343.0 214.8 336.0 214.1 328.8 212.0 326.9 211.0 325.0 208.9 324.0 206.0 323.5 202.0 323.6 198.0 324.4 193.0 326.2 187.0 329.0 181.2 340.2 166.0 345.1 156.0 346.9 154.0 348.4 153.0ZM349.6 159.0 347.0 161.7 339.6 172.0 332.0 181.4 328.9 187.0 326.9 193.0 326.2 197.0 326.0 201.0 326.3 204.0 327.0 206.2 328.3 208.0 330.0 209.3 337.0 211.9 343.0 212.5 345.0 212.0 347.0 211.0 350.0 208.7 353.0 205.4 354.9 202.0 355.5 200.0 356.6 188.0 359.0 177.0 359.1 173.0 357.0 164.9 355.0 160.0 353.0 158.4 352.0 158.2 350.0 158.7ZM377.0 225.8 385.0 225.4 401.0 226.0 405.0 227.0 407.0 228.3 408.6 230.0 411.5 235.0 414.5 242.0 416.5 249.0 417.6 256.0 417.5 261.0 416.4 266.0 414.9 269.0 412.0 272.0 408.0 274.4 403.0 276.0 397.0 276.8 391.0 276.5 386.0 275.3 382.0 273.3 378.0 270.3 374.0 266.1 371.5 262.0 369.9 257.0 368.0 246.0 367.6 238.0 368.2 234.0 369.6 231.0 373.0 227.6 376.4 226.0ZM381.0 227.0 377.0 227.5 374.0 228.7 371.0 231.6 369.5 235.0 369.0 240.0 369.5 247.0 371.0 254.8 373.0 260.1 376.0 264.1 380.0 267.6 384.0 270.1 388.0 271.7 393.0 272.7 398.0 272.8 403.0 272.0 407.0 270.3 410.0 268.0 412.2 265.0 413.7 261.0 414.2 257.0 414.0 252.0 412.8 246.0 410.7 240.0 408.0 234.7 405.0 230.6 403.0 229.1 401.0 228.3 395.0 227.4 382.0 227.0Z" fill="#ffae00" stroke="#ffae00" stroke-width="0.3" fill-rule="evenodd"/>
<path d="M350.0 158.7 352.0 158.2 353.0 158.4 355.0 160.0 357.0 164.9 359.1 173.0 359.0 177.0 356.6 188.0 355.5 200.0 354.9 202.0 353.0 205.4 350.0 208.7 347.0 211.0 345.0 212.0 343.0 212.5 337.0 211.9 330.0 209.3 328.3 208.0 327.0 206.2 326.3 204.0 326.0 201.0 326.2 197.0 326.9 193.0 328.9 187.0 332.0 181.4 339.6 172.0 347.0 161.7 349.6 159.0ZM348.3 167.0 334.0 183.4 331.0 188.7 329.2 194.0 328.6 198.0 328.6 201.0 329.0 203.0 329.9 205.0 331.0 206.3 333.6 208.0 339.0 209.9 343.0 210.0 345.0 209.4 347.4 208.0 351.4 204.0 353.0 201.2 353.7 199.0 354.6 187.0 356.1 178.0 356.0 174.2 354.8 170.0 353.0 167.1 351.0 166.0 349.0 166.5ZM382.0 227.0 395.0 227.4 401.0 228.3 403.0 229.1 405.0 230.6 408.0 234.7 410.7 240.0 412.8 246.0 414.0 252.0 414.2 257.0 413.7 261.0 412.2 265.0 410.0 268.0 407.0 270.3 403.0 272.0 398.0 272.8 393.0 272.7 388.0 271.7 384.0 270.1 380.0 267.6 376.0 264.1 373.0 260.1 371.0 254.8 369.5 247.0 369.0 240.0 369.5 235.0 371.0 231.6 374.0 228.7 377.0 227.5 381.0 227.0ZM377.6 229.0 375.0 229.9 372.6 232.0 371.0 235.0 370.5 238.0 370.5 244.0 371.4 250.0 373.0 255.2 375.0 258.7 378.0 261.8 382.0 264.7 386.0 266.8 390.0 268.1 395.0 268.9 399.0 268.8 403.0 267.8 406.0 266.1 408.2 264.0 410.0 260.7 410.9 257.0 411.0 253.0 410.3 248.0 409.0 243.7 406.9 239.0 404.0 234.2 401.0 231.3 397.0 229.7 387.0 228.7 378.0 228.9Z" fill="#ff7e00" stroke="#ff7e00" stroke-width="0.3" fill-rule="evenodd"/>
<path d="M349.0 166.5 351.0 166.0 353.0 167.1 354.8 170.0 356.0 174.2 356.1 178.0 354.6 187.0 353.7 199.0 353.0 201.2 351.4 204.0 347.4 208.0 345.0 209.4 343.0 210.0 339.0 209.9 333.6 208.0 331.0 206.3 329.9 205.0 329.0 203.0 328.6 201.0 328.6 198.0 329.2 194.0 331.0 188.7 334.0 183.4 348.3 167.0ZM347.7 176.0 343.0 178.8 338.0 183.2 334.4 188.0 332.2 193.0 331.3 198.0 331.9 202.0 334.0 204.8 338.0 206.9 342.0 207.5 344.0 207.0 346.0 206.0 349.2 203.0 351.4 199.0 352.0 195.0 352.4 180.0 352.0 178.1 351.0 176.6 350.0 175.9 348.0 175.9ZM378.0 228.9 387.0 228.7 397.0 229.7 401.0 231.3 404.0 234.2 406.9 239.0 409.0 243.7 410.3 248.0 411.0 253.0 410.9 257.0 410.0 260.7 408.2 264.0 406.0 266.1 403.0 267.8 399.0 268.8 395.0 268.9 390.0 268.1 386.0 266.8 382.0 264.7 378.0 261.8 375.0 258.7 373.0 255.2 371.4 250.0 370.5 244.0 370.5 238.0 371.0 235.0 372.6 232.0 375.0 229.9 377.6 229.0ZM376.8 231.0 374.9 232.0 373.2 234.0 372.2 237.0 371.8 240.0 372.1 245.0 373.0 249.6 374.0 252.4 376.0 255.7 379.0 258.5 383.0 261.1 387.0 262.9 391.0 264.0 395.0 264.6 399.0 264.3 402.0 263.4 404.0 262.0 405.8 260.0 407.0 257.3 407.6 254.0 407.5 251.0 406.7 247.0 405.3 243.0 403.2 239.0 401.0 235.8 397.9 233.0 395.9 232.0 393.0 231.2 383.0 230.3 377.0 230.9Z" fill="#ff4e00" stroke="#ff4e00" stroke-width="0.3" fill-rule="evenodd"/>
<path d="M348.0 175.9 350.0 175.9 351.0 176.6 352.0 178.1 352.4 180.0 352.0 195.0 351.4 199.0 349.2 203.0 346.0 206.0 344.0 207.0 342.0 207.5 338.0 206.9 334.0 204.8 331.9 202.0 331.3 198.0 332.2 193.0 334.4 188.0 338.0 183.2 343.0 178.8 347.7 176.0ZM345.6 183.0 342.0 184.4 339.0 186.9 336.7 190.0 334.9 194.0 334.4 197.0 334.7 200.0 336.0 202.2 339.0 204.1 342.0 204.4 345.0 203.3 347.5 201.0 349.1 198.0 349.7 193.0 349.1 186.0 348.0 183.7 346.0 182.9ZM377.0 230.9 383.0 230.3 393.0 231.2 395.9 232.0 397.9 233.0 401.0 235.8 403.2 239.0 405.3 243.0 406.7 247.0 407.5 251.0 407.6 254.0 407.0 257.3 405.8 260.0 404.0 262.0 402.0 263.4 399.0 264.3 395.0 264.6 391.0 264.0 387.0 262.9 383.0 261.1 379.0 258.5 376.0 255.7 374.0 252.4 373.0 249.6 372.1 245.0 371.8 240.0 372.2 237.0 373.2 234.0 374.9 232.0 376.8 231.0ZM377.1 233.0 375.6 234.0 374.3 236.0 373.4 241.0 374.1 247.0 375.3 250.0 377.0 252.5 379.0 254.3 382.0 256.2 386.0 257.9 390.0 259.1 394.0 259.6 397.0 259.3 399.0 258.7 401.0 257.3 402.0 256.0 403.0 253.4 403.2 251.0 402.8 248.0 401.0 243.0 397.0 237.2 394.0 234.7 389.1 233.0 383.0 232.3 378.0 232.7Z" fill="#ff1e00" stroke="#ff1e00" stroke-width="0.3" fill-rule="evenodd"/>
<path d="M346.0 182.9 348.0 183.7 349.1 186.0 349.7 193.0 349.1 198.0 347.5 201.0 345.0 203.3 342.0 204.4 339.0 204.1 336.0 202.2 334.7 200.0 334.4 197.0 334.9 194.0 336.7 190.0 339.0 186.9 342.0 184.4 345.6 183.0ZM341.9 190.0 339.2 193.0 338.2 196.0 338.8 199.0 339.8 200.0 341.0 200.5 343.0 200.3 344.8 199.0 346.0 197.0 346.4 195.0 346.2 192.0 345.2 190.0 344.0 189.4 342.0 190.0ZM378.0 232.7 383.0 232.3 389.1 233.0 394.0 234.7 397.0 237.2 401.0 243.0 402.8 248.0 403.2 251.0 403.0 253.4 402.0 256.0 401.0 257.3 399.0 258.7 397.0 259.3 394.0 259.6 390.0 259.1 386.0 257.9 382.0 256.2 379.0 254.3 377.0 252.5 375.3 250.0 374.1 247.0 373.4 241.0 374.3 236.0 375.6 234.0 377.1 233.0ZM379.6 235.0 378.0 235.6 376.5 237.0 375.6 239.0 375.3 241.0 375.3 243.0 376.0 245.8 378.0 248.8 382.0 251.3 387.0 252.6 392.0 252.6 394.0 252.0 395.0 251.2 396.1 249.0 395.9 246.0 394.7 243.0 392.6 240.0 390.0 237.6 387.1 236.0 383.3 235.0 380.0 234.9Z" fill="#d60000" stroke="#d60000" stroke-width="0.3" fill-rule="evenodd"/>
<path d="M342.0 190.0 344.0 189.4 345.2 190.0 346.2 192.0 346.4 195.0 346.0 197.0 344.8 199.0 343.0 200.3 341.0 200.5 339.8 200.0 338.8 199.0 338.2 196.0 339.2 193.0 341.9 190.0ZM380.0 234.9 383.3 235.0 387.1 236.0 390.0 237.6 392.6 240.0 394.7 243.0 395.9 246.0 396.1 249.0 395.0 251.2 394.0 252.0 392.0 252.6 387.0 252.6 382.0 251.3 378.0 248.8 376.0 245.8 375.3 243.0 375.3 241.0 375.6 239.0 376.5 237.0 378.0 235.6 379.6 235.0ZM380.0 242.0 380.6 242.0 380.0 241.9Z" fill="#9b0000" stroke="#9b0000" stroke-width="0.3" fill-rule="evenodd"/>
<path d="M380.0 241.9 380.6 242.0 380.0 242.0Z" fill="#800000" stroke="#800000" stroke-width="0.3" fill-rule="evenodd"/>
<path d="M386.0 191.9 381.0 193.9 379.0 195.4 378.0 196.7 377.1 199.0 376.9 201.0 377.4 203.0 379.0 204.4 381.0 204.9 384.0 204.2 386.0 203.0 388.6 200.0 390.1 197.0 390.7 194.0 390.4 193.0 389.2 192.0 387.0 191.8ZM345.0 237.9 340.6 240.0 339.6 241.0 338.7 243.0 338.8 246.0 340.0 249.0 341.0 250.4 343.0 251.6 345.0 251.2 346.0 250.3 347.0 248.6 347.9 246.0 348.1 243.0 347.8 241.0 346.9 239.0 345.8 238.0ZM389.0 186.0 385.3 187.0 381.1 189.0 378.3 191.0 376.7 193.0 375.4 197.0 375.1 201.0 376.1 204.0 378.0 205.8 380.0 206.4 382.0 206.5 384.6 206.0 387.1 205.0 391.5 202.0 396.0 197.0 397.0 195.0 397.4 193.0 397.3 191.0 396.6 189.0 395.9 188.0 394.0 186.6 392.0 186.0 389.0 186.0M341.0 236.9 338.0 238.3 336.2 240.0 335.4 243.0 335.7 247.0 337.0 251.5 339.0 255.1 342.0 257.9 344.0 258.4 345.0 258.3 347.1 257.0 349.0 253.3 350.1 248.0 350.1 243.0 349.2 240.0 347.0 237.0 345.0 236.2 341.0 236.9M388.0 182.9 384.0 184.2 379.0 186.6 376.2 189.0 375.0 191.0 373.6 197.0 373.8 202.0 375.0 205.0 376.0 206.3 378.0 207.5 381.0 208.1 384.0 207.9 389.9 206.0 396.2 202.0 399.0 199.1 400.2 197.0 401.1 194.0 401.2 191.0 400.3 188.0 399.0 185.9 396.8 184.0 394.0 182.9 391.0 182.6 388.0 182.9M340.0 235.0 336.0 236.4 334.1 238.0 333.5 239.0 332.8 243.0 333.5 249.0 335.9 256.0 339.0 260.6 342.0 263.1 344.0 263.8 346.0 263.8 347.8 263.0 349.0 261.9 351.0 257.7 352.1 250.0 351.9 243.0 350.4 239.0 348.0 236.0 345.0 234.5 341.0 234.7ZM386.0 180.8 380.3 183.0 376.0 185.5 374.1 188.0 373.0 191.0 372.1 198.0 372.6 203.0 373.4 205.0 375.0 207.4 378.0 209.3 382.0 209.6 386.0 209.2 390.0 208.1 394.0 206.5 398.0 204.2 400.7 202.0 402.3 200.0 403.6 197.0 404.2 194.0 404.0 190.0 403.0 187.0 401.0 184.0 398.0 181.6 395.0 180.5 391.0 180.0 387.0 180.6ZM340.0 232.9 335.0 234.2 333.0 235.3 331.6 237.0 330.9 239.0 330.6 242.0 331.2 249.0 333.7 257.0 335.8 261.0 338.0 263.9 340.2 266.0 343.0 267.8 345.0 268.3 347.0 268.3 349.0 267.6 350.8 266.0 352.0 264.0 353.0 261.3 354.0 253.0 353.5 243.0 352.1 239.0 349.0 234.9 346.0 233.1 341.0 232.8ZM389.0 178.0 383.0 179.4 376.0 182.6 374.0 184.4 372.1 188.0 370.7 195.0 371.0 202.0 371.8 205.0 373.0 207.3 375.0 209.6 377.0 210.7 380.0 211.2 385.1 211.0 390.0 210.1 395.0 208.5 400.0 206.1 402.9 204.0 404.6 202.0 406.0 199.1 406.8 195.0 406.6 190.0 405.3 186.0 403.3 183.0 400.0 180.2 397.0 178.8 393.0 177.9 389.0 178.0M339.0 231.0 335.0 231.7 332.0 232.9 330.5 234.0 329.2 236.0 328.5 239.0 328.4 243.0 329.4 251.0 332.2 259.0 334.3 263.0 337.0 266.6 340.0 269.5 343.0 271.4 346.0 272.3 348.0 272.2 350.0 271.5 352.0 270.0 353.9 267.0 355.0 264.0 355.6 260.0 355.8 255.0 355.1 243.0 353.3 238.0 351.3 235.0 349.2 233.0 347.0 231.7 345.0 231.2 340.0 230.9ZM389.0 176.0 383.0 177.2 376.0 180.1 373.0 182.3 371.0 186.1 369.9 190.0 369.3 194.0 369.1 198.0 369.5 202.0 370.7 206.0 372.0 208.6 374.0 210.9 376.0 212.2 380.0 212.8 386.0 212.6 392.0 211.5 397.3 210.0 402.0 208.0 405.0 206.0 406.8 204.0 408.3 201.0 409.3 196.0 409.2 191.0 407.8 186.0 405.4 182.0 402.0 178.9 398.0 176.9 394.0 176.0 389.0 176.0M339.0 229.0 335.0 229.4 332.0 230.3 329.0 231.7 327.8 233.0 326.7 236.0 326.2 240.0 326.3 245.0 327.2 251.0 328.6 256.0 330.7 261.0 333.0 265.0 336.0 269.0 339.0 272.0 343.0 274.7 346.0 275.8 349.0 275.9 352.0 274.7 354.0 272.7 355.6 270.0 356.9 266.0 357.5 262.0 357.6 257.0 356.5 242.0 355.6 239.0 354.0 236.0 352.0 233.2 350.0 231.3 346.0 229.5 340.0 229.0ZM389.0 173.9 381.0 175.7 374.0 178.7 371.6 181.0 369.6 185.0 368.2 190.0 367.7 194.0 367.7 199.0 368.2 203.0 369.3 207.0 370.8 210.0 373.0 212.5 375.0 213.7 379.0 214.4 386.0 214.2 393.0 213.2 399.0 211.8 404.0 210.0 407.0 208.2 409.1 206.0 410.6 203.0 411.8 197.0 411.6 191.0 410.3 186.0 407.6 181.0 404.0 177.4 400.0 175.1 395.0 173.9 389.0 173.9M338.0 227.0 334.0 227.4 329.0 228.6 326.6 230.0 325.2 232.0 324.3 236.0 324.0 242.0 324.5 248.0 325.5 253.0 327.5 259.0 329.8 264.0 333.0 268.9 336.0 272.5 340.0 276.1 344.0 278.7 348.0 280.2 351.0 280.2 354.0 278.4 356.0 275.7 358.0 271.0 358.9 267.0 359.3 257.0 357.8 241.0 356.9 238.0 355.0 234.2 353.0 231.0 351.0 229.2 347.0 227.8 339.0 227.0ZM393.0 171.0 385.0 172.3 375.0 175.8 371.5 178.0 369.0 182.0 367.3 187.0 366.4 191.0 366.1 196.0 366.4 201.0 367.3 207.0 368.5 211.0 370.0 213.0 373.0 215.0 377.0 215.9 385.0 215.9 393.0 215.1 400.0 213.8 405.0 212.4 408.2 211.0 410.7 209.0 412.6 206.0 414.2 200.0 414.5 194.0 413.7 188.0 411.5 182.0 408.1 177.0 404.0 173.7 399.0 171.6 394.0 171.0ZM360.0 215.7 358.0 216.6 356.0 218.3 354.9 220.0 353.3 224.0 352.0 225.1 348.0 225.6 335.0 225.0 328.4 226.0 325.4 227.0 324.0 228.2 323.1 230.0 321.8 237.0 321.9 245.0 323.2 253.0 325.9 261.0 329.5 268.0 335.0 275.2 342.0 281.8 349.0 286.8 352.0 288.1 354.0 288.5 356.6 288.0 358.2 286.0 360.9 267.0 361.0 258.0 359.4 242.0 358.6 238.0 356.4 232.0 355.8 229.0 356.2 227.0 362.0 223.1 364.1 220.0 364.4 218.0 364.3 217.0 363.5 216.0 362.0 215.5 360.0 215.7M394.0 166.9 389.0 167.7 383.0 169.7 373.0 174.2 370.0 176.9 367.0 183.0 365.0 190.0 364.5 196.0 365.1 207.0 364.9 209.0 363.6 211.0 358.0 213.9 356.0 215.3 354.0 217.2 351.0 221.2 349.0 222.7 346.0 223.3 333.0 223.0 325.0 223.7 322.4 225.0 320.8 228.0 319.4 236.0 319.5 246.0 321.4 256.0 324.8 265.0 327.4 270.0 330.7 275.0 341.0 288.1 347.0 293.5 350.0 295.4 354.0 297.1 359.0 297.8 362.9 297.0 365.4 295.0 366.4 292.0 365.9 288.0 362.9 275.0 362.6 259.0 360.6 240.0 358.9 232.0 359.5 229.0 365.2 223.0 368.0 219.1 370.0 217.5 376.0 217.7 390.0 217.2 399.0 216.2 406.0 214.8 410.0 213.4 413.0 211.3 414.7 209.0 416.3 205.0 417.4 199.0 417.5 191.0 416.5 184.0 414.2 178.0 411.0 173.7 406.0 169.9 401.0 167.8 395.0 166.9ZM390.0 160.8 385.0 162.5 379.0 166.1 373.0 171.1 368.6 177.0 365.1 185.0 363.5 190.0 362.9 194.0 363.1 205.0 362.6 207.0 361.0 209.3 354.7 214.0 349.0 219.8 347.0 220.8 344.0 221.3 340.0 221.2 335.0 221.9 326.0 221.7 321.1 222.0 318.4 224.0 317.4 226.0 316.2 232.0 316.4 240.0 317.1 247.0 318.6 255.0 318.4 257.0 319.0 262.3 321.4 270.0 325.6 280.0 328.6 286.0 331.6 291.0 335.4 296.0 339.0 299.9 343.0 303.4 347.0 306.1 352.0 308.6 356.0 309.8 360.0 310.5 364.0 310.5 368.0 309.7 371.0 308.6 374.0 306.8 376.0 305.0 378.0 302.2 378.6 300.0 378.5 298.0 377.7 296.0 372.0 287.7 369.0 282.0 366.5 276.0 365.3 272.0 361.2 233.0 361.4 231.0 362.4 229.0 369.0 221.9 372.0 220.0 378.0 219.3 391.0 218.8 402.0 217.9 410.0 216.6 414.0 215.2 416.9 213.0 419.0 210.0 420.8 206.0 422.4 200.0 424.3 190.0 424.5 184.0 423.7 180.0 422.5 177.0 418.7 171.0 413.0 165.8 409.0 163.4 405.0 161.7 398.0 160.2 394.0 160.2 390.0 160.8M437.0 278.1 434.7 285.0 433.0 288.1 430.8 291.0 428.0 293.6 425.0 295.5 422.0 296.8 419.0 297.5 415.0 297.7 410.0 296.9 398.0 292.6 385.0 290.2 380.0 287.9 376.0 284.6 373.0 280.8 369.0 274.0 367.1 269.0 363.7 243.0 363.2 234.0 363.7 231.0 365.7 228.0 370.0 223.7 372.0 222.4 375.0 221.3 380.0 220.7 409.0 219.6 413.0 219.8 415.0 220.3 417.0 221.5 419.4 224.0 429.8 240.0 434.4 250.0 437.0 259.8M356.0 109.9 359.0 109.6 366.0 111.9 375.2 118.0 388.0 130.6 390.0 131.9 391.0 133.5 395.2 138.0 395.9 143.0 395.3 147.0 394.3 149.0 392.0 151.4 379.3 161.0 375.0 165.3 368.3 175.0 364.8 183.0 362.0 191.3 361.4 195.0 361.3 202.0 360.9 205.0 359.9 207.0 358.0 209.0 353.0 213.3 350.0 216.5 346.0 218.9 336.0 220.5 321.0 220.2 320.0 220.4 318.0 221.6 315.2 224.0 314.9 228.0 314.1 230.0 314.0 232.0 314.6 235.0 314.5 240.0 315.1 243.0 315.3 248.0 316.0 250.6 316.4 255.0 316.7 263.0 316.0 264.6 315.0 265.3 312.0 263.5 311.6 261.0 310.0 256.9 309.6 254.0 308.8 252.0 308.6 248.0 307.7 246.0 307.7 242.0 306.7 239.0 306.7 234.0 305.7 231.0 305.7 219.0 306.5 217.0 306.9 213.0 307.5 212.0 307.9 209.0 308.9 206.0 311.4 201.0 311.9 199.0 314.4 194.0 314.8 192.0 317.2 187.0 319.2 181.0 319.7 178.0 320.5 176.0 320.4 174.0 319.0 172.9 318.0 173.4 316.2 175.0 314.4 176.0 312.5 178.0 311.6 180.0 310.1 185.0 308.6 188.0 302.1 208.0 301.0 210.0 296.0 211.3 295.0 211.1 288.0 206.0 283.9 199.0 280.7 187.0 280.7 176.0 281.6 173.0 281.7 166.0 282.4 164.0 282.7 159.0 283.4 157.0 283.7 154.0 284.4 152.0 284.7 149.0 285.4 147.0 285.9 144.0 287.4 140.0 287.9 137.0 289.4 134.0 289.9 132.0 291.4 129.0 292.0 126.8 295.7 122.0 300.8 117.0 304.0 115.9 307.0 115.7 310.0 116.9 311.0 117.7 313.1 121.0 313.4 139.0 314.6 143.0 319.0 147.3 324.0 147.2 328.0 145.0 331.0 142.8 334.7 139.0 337.0 133.9 337.6 130.0 338.2 129.0 338.7 126.0 340.8 122.0 343.0 118.7 349.0 112.8 352.0 110.9 355.0 110.4 355.8 110.0ZM310.0 278.9 313.0 279.0 317.0 281.1 320.0 284.1 323.0 288.6 325.0 293.7 325.1 296.0 324.1 298.0 322.0 300.0 321.0 300.3 317.0 299.1 314.0 297.1 311.0 294.2 308.9 291.0 306.9 286.0 306.7 283.0 308.0 280.1 309.9 279.0ZM349.0 137.9 354.0 137.5 360.0 138.4 365.0 140.4 368.9 143.0 371.6 146.0 373.5 150.0 373.7 154.0 372.9 158.0 370.7 164.0 367.4 171.0 363.3 183.0 360.1 195.0 359.2 203.0 358.5 205.0 357.1 207.0 353.0 211.2 350.0 215.0 345.0 217.6 341.0 218.6 338.0 218.7 325.0 217.1 322.4 216.0 320.5 214.0 319.6 212.0 318.7 208.0 318.2 203.0 318.4 197.0 320.4 187.0 323.6 179.0 330.7 168.0 332.0 165.3 332.6 163.0 333.4 153.0 335.7 147.0 338.0 143.8 341.0 141.2 344.0 139.4 348.4 138.0ZM376.0 222.8 382.0 222.2 407.0 222.2 411.0 223.2 414.0 226.0 417.4 232.0 424.7 248.0 427.1 255.0 428.3 261.0 428.5 268.0 427.3 274.0 425.0 279.0 421.3 283.0 417.4 285.0 413.0 285.8 403.0 285.3 392.0 285.5 388.0 285.1 384.0 284.0 381.0 282.5 377.0 279.3 374.0 275.9 370.0 269.7 368.0 264.1 365.4 247.0 364.8 237.0 365.4 232.0 367.0 229.2 371.3 225.0 375.3 223.0ZM349.0 147.0 352.0 146.5 355.0 146.8 358.0 147.9 359.9 149.0 362.0 150.9 363.5 153.0 364.4 155.0 365.2 158.0 365.2 161.0 364.2 168.0 363.9 175.0 360.6 186.0 357.5 202.0 355.6 206.0 350.0 213.2 349.0 214.3 346.0 216.0 343.0 216.9 341.0 217.0 328.0 214.8 325.0 213.6 323.3 212.0 322.3 210.0 321.5 207.0 321.1 203.0 321.2 198.0 321.9 193.0 323.2 188.0 325.0 183.2 327.2 179.0 337.2 165.0 338.4 162.0 339.9 156.0 341.2 153.0 342.6 151.0 344.7 149.0 348.8 147.0ZM379.0 224.0 395.0 223.8 404.0 224.2 408.0 225.3 411.1 228.0 414.4 234.0 417.7 242.0 420.5 251.0 422.1 259.0 422.3 264.0 421.5 269.0 419.6 273.0 416.8 276.0 412.0 278.3 405.0 279.9 397.0 280.8 390.0 280.6 385.0 279.4 381.0 277.4 377.0 274.1 373.0 269.4 370.0 264.0 368.5 258.0 366.5 244.0 366.5 235.0 367.8 231.0 371.0 227.3 374.4 225.0 378.7 224.0ZM349.0 152.7 351.0 152.2 353.0 152.2 356.0 153.2 359.0 156.0 360.5 160.0 361.7 175.0 358.6 187.0 357.4 198.0 356.3 202.0 354.2 206.0 351.0 210.2 348.0 212.9 346.0 214.1 343.0 214.8 336.0 214.1 328.8 212.0 326.9 211.0 325.0 208.9 324.0 206.0 323.5 202.0 323.6 198.0 324.4 193.0 326.2 187.0 329.0 181.2 340.2 166.0 345.1 156.0 346.9 154.0 348.4 153.0ZM377.0 225.8 385.0 225.4 401.0 226.0 405.0 227.0 407.0 228.3 408.6 230.0 411.5 235.0 414.5 242.0 416.5 249.0 417.6 256.0 417.5 261.0 416.4 266.0 414.9 269.0 412.0 272.0 408.0 274.4 403.0 276.0 397.0 276.8 391.0 276.5 386.0 275.3 382.0 273.3 378.0 270.3 374.0 266.1 371.5 262.0 369.9 257.0 368.0 246.0 367.6 238.0 368.2 234.0 369.6 231.0 373.0 227.6 376.4 226.0ZM350.0 158.7 352.0 158.2 353.0 158.4 355.0 160.0 357.0 164.9 359.1 173.0 359.0 177.0 356.6 188.0 355.5 200.0 354.9 202.0 353.0 205.4 350.0 208.7 347.0 211.0 345.0 212.0 343.0 212.5 337.0 211.9 330.0 209.3 328.3 208.0 327.0 206.2 326.3 204.0 326.0 201.0 326.2 197.0 326.9 193.0 328.9 187.0 332.0 181.4 339.6 172.0 347.0 161.7 349.6 159.0ZM382.0 227.0 395.0 227.4 401.0 228.3 403.0 229.1 405.0 230.6 408.0 234.7 410.7 240.0 412.8 246.0 414.0 252.0 414.2 257.0 413.7 261.0 412.2 265.0 410.0 268.0 407.0 270.3 403.0 272.0 398.0 272.8 393.0 272.7 388.0 271.7 384.0 270.1 380.0 267.6 376.0 264.1 373.0 260.1 371.0 254.8 369.5 247.0 369.0 240.0 369.5 235.0 371.0 231.6 374.0 228.7 377.0 227.5 381.0 227.0ZM349.0 166.5 351.0 166.0 353.0 167.1 354.8 170.0 356.0 174.2 356.1 178.0 354.6 187.0 353.7 199.0 353.0 201.2 351.4 204.0 347.4 208.0 345.0 209.4 343.0 210.0 339.0 209.9 333.6 208.0 331.0 206.3 329.9 205.0 329.0 203.0 328.6 201.0 328.6 198.0 329.2 194.0 331.0 188.7 334.0 183.4 348.3 167.0ZM378.0 228.9 387.0 228.7 397.0 229.7 401.0 231.3 404.0 234.2 406.9 239.0 409.0 243.7 410.3 248.0 411.0 253.0 410.9 257.0 410.0 260.7 408.2 264.0 406.0 266.1 403.0 267.8 399.0 268.8 395.0 268.9 390.0 268.1 386.0 266.8 382.0 264.7 378.0 261.8 375.0 258.7 373.0 255.2 371.4 250.0 370.5 244.0 370.5 238.0 371.0 235.0 372.6 232.0 375.0 229.9 377.6 229.0ZM348.0 175.9 350.0 175.9 351.0 176.6 352.0 178.1 352.4 180.0 352.0 195.0 351.4 199.0 349.2 203.0 346.0 206.0 344.0 207.0 342.0 207.5 338.0 206.9 334.0 204.8 331.9 202.0 331.3 198.0 332.2 193.0 334.4 188.0 338.0 183.2 343.0 178.8 347.7 176.0ZM377.0 230.9 383.0 230.3 393.0 231.2 395.9 232.0 397.9 233.0 401.0 235.8 403.2 239.0 405.3 243.0 406.7 247.0 407.5 251.0 407.6 254.0 407.0 257.3 405.8 260.0 404.0 262.0 402.0 263.4 399.0 264.3 395.0 264.6 391.0 264.0 387.0 262.9 383.0 261.1 379.0 258.5 376.0 255.7 374.0 252.4 373.0 249.6 372.1 245.0 371.8 240.0 372.2 237.0 373.2 234.0 374.9 232.0 376.8 231.0ZM346.0 182.9 348.0 183.7 349.1 186.0 349.7 193.0 349.1 198.0 347.5 201.0 345.0 203.3 342.0 204.4 339.0 204.1 336.0 202.2 334.7 200.0 334.4 197.0 334.9 194.0 336.7 190.0 339.0 186.9 342.0 184.4 345.6 183.0ZM378.0 232.7 383.0 232.3 389.1 233.0 394.0 234.7 397.0 237.2 401.0 243.0 402.8 248.0 403.2 251.0 403.0 253.4 402.0 256.0 401.0 257.3 399.0 258.7 397.0 259.3 394.0 259.6 390.0 259.1 386.0 257.9 382.0 256.2 379.0 254.3 377.0 252.5 375.3 250.0 374.1 247.0 373.4 241.0 374.3 236.0 375.6 234.0 377.1 233.0ZM342.0 190.0 344.0 189.4 345.2 190.0 346.2 192.0 346.4 195.0 346.0 197.0 344.8 199.0 343.0 200.3 341.0 200.5 339.8 200.0 338.8 199.0 338.2 196.0 339.2 193.0 341.9 190.0ZM380.0 234.9 383.3 235.0 387.1 236.0 390.0 237.6 392.6 240.0 394.7 243.0 395.9 246.0 396.1 249.0 395.0 251.2 394.0 252.0 392.0 252.6 387.0 252.6 382.0 251.3 378.0 248.8 376.0 245.8 375.3 243.0 375.3 241.0 375.6 239.0 376.5 237.0 378.0 235.6 379.6 235.0Z" fill="none" stroke="#ff00ff" stroke-width="1.3"/>
</g>
<rect x="266.5" y="75.5" width="172" height="280" fill="none" stroke="#000" stroke-width="3"/>
<line x1="267.00" y1="354.00" x2="267.00" y2="351.00" stroke="#000" stroke-width="2.4"/>
<line x1="267.00" y1="77.00" x2="267.00" y2="80.00" stroke="#000" stroke-width="2.4"/>
<text x="267.00" y="370.50" font-size="11" text-anchor="middle" font-weight="bold" >1.4</text>
<line x1="304.32" y1="354.00" x2="304.32" y2="351.00" stroke="#000" stroke-width="2.4"/>
<line x1="304.32" y1="77.00" x2="304.32" y2="80.00" stroke="#000" stroke-width="2.4"/>
<text x="304.32" y="370.50" font-size="11" text-anchor="middle" font-weight="bold" >1.6</text>
<line x1="341.64" y1="354.00" x2="341.64" y2="351.00" stroke="#000" stroke-width="2.4"/>
<line x1="341.64" y1="77.00" x2="341.64" y2="80.00" stroke="#000" stroke-width="2.4"/>
<text x="341.64" y="370.50" font-size="11" text-anchor="middle" font-weight="bold" >1.8</text>
<line x1="378.96" y1="354.00" x2="378.96" y2="351.00" stroke="#000" stroke-width="2.4"/>
<line x1="378.96" y1="77.00" x2="378.96" y2="80.00" stroke="#000" stroke-width="2.4"/>
<text x="378.96" y="370.50" font-size="11" text-anchor="middle" font-weight="bold" >2</text>
<line x1="416.28" y1="354.00" x2="416.28" y2="351.00" stroke="#000" stroke-width="2.4"/>
<line x1="416.28" y1="77.00" x2="416.28" y2="80.00" stroke="#000" stroke-width="2.4"/>
<text x="416.28" y="370.50" font-size="11" text-anchor="middle" font-weight="bold" >2.2</text>
<line x1="268.00" y1="76.20" x2="271.00" y2="76.20" stroke="#000" stroke-width="2.4"/>
<line x1="437.00" y1="76.20" x2="434.00" y2="76.20" stroke="#000" stroke-width="2.4"/>
<text x="262.00" y="80.20" font-size="11" text-anchor="end" font-weight="bold" >0.8</text>
<line x1="268.00" y1="113.50" x2="271.00" y2="113.50" stroke="#000" stroke-width="2.4"/>
<line x1="437.00" y1="113.50" x2="434.00" y2="113.50" stroke="#000" stroke-width="2.4"/>
<text x="262.00" y="117.50" font-size="11" text-anchor="end" font-weight="bold" >0.6</text>
<line x1="268.00" y1="150.80" x2="271.00" y2="150.80" stroke="#000" stroke-width="2.4"/>
<line x1="437.00" y1="150.80" x2="434.00" y2="150.80" stroke="#000" stroke-width="2.4"/>
<text x="262.00" y="154.80" font-size="11" text-anchor="end" font-weight="bold" >0.4</text>
<line x1="268.00" y1="188.10" x2="271.00" y2="188.10" stroke="#000" stroke-width="2.4"/>
<line x1="437.00" y1="188.10" x2="434.00" y2="188.10" stroke="#000" stroke-width="2.4"/>
<text x="262.00" y="192.10" font-size="11" text-anchor="end" font-weight="bold" >0.2</text>
<line x1="268.00" y1="225.40" x2="271.00" y2="225.40" stroke="#000" stroke-width="2.4"/>
<line x1="437.00" y1="225.40" x2="434.00" y2="225.40" stroke="#000" stroke-width="2.4"/>
<text x="262.00" y="229.40" font-size="11" text-anchor="end" font-weight="bold" >0</text>
<line x1="268.00" y1="262.70" x2="271.00" y2="262.70" stroke="#000" stroke-width="2.4"/>
<line x1="437.00" y1="262.70" x2="434.00" y2="262.70" stroke="#000" stroke-width="2.4"/>
<text x="262.00" y="266.70" font-size="11" text-anchor="end" font-weight="bold" >-0.2</text>
<line x1="268.00" y1="300.00" x2="271.00" y2="300.00" stroke="#000" stroke-width="2.4"/>
<line x1="437.00" y1="300.00" x2="434.00" y2="300.00" stroke="#000" stroke-width="2.4"/>
<text x="262.00" y="304.00" font-size="11" text-anchor="end" font-weight="bold" >-0.4</text>
<line x1="268.00" y1="337.30" x2="271.00" y2="337.30" stroke="#000" stroke-width="2.4"/>
<line x1="437.00" y1="337.30" x2="434.00" y2="337.30" stroke="#000" stroke-width="2.4"/>
<text x="262.00" y="341.30" font-size="11" text-anchor="end" font-weight="bold" >-0.6</text>
<text x="296.30" y="100.90" font-size="18.8" text-anchor="start" font-weight="bold" >(c)</text>
<text x="339.80" y="391.70" font-size="15" text-anchor="start" font-weight="bold" >R [m]</text>
<text transform="translate(248.3,236.3) rotate(-90)" font-size="14.8" font-weight="bold">Z [m]</text>
<rect x="325.5" y="86.5" width="103" height="19" fill="#fff" stroke="#000" stroke-width="3"/>
<ellipse cx="348.5" cy="95.7" rx="16.5" ry="5.6" fill="#000080"/>
<ellipse cx="348.5" cy="95.7" rx="9.8" ry="3.6" fill="#80ff80"/>
<ellipse cx="348.5" cy="95.7" rx="5.2" ry="2.1" fill="#800000"/>
<text x="368.5" y="98" font-size="11" font-family='"Liberation Serif", serif' font-style="italic">&#964;</text>
<text x="373.00" y="102.50" font-size="8" text-anchor="start" font-weight="bold" >A</text>
<text x="379.00" y="97.50" font-size="9.6" text-anchor="start" font-weight="bold" >=368.0898</text>
<defs><linearGradient id="jet" x1="0" y1="1" x2="0" y2="0"><stop offset="0" stop-color="#000080"/><stop offset="0.125" stop-color="#0000ff"/><stop offset="0.375" stop-color="#00ffff"/><stop offset="0.625" stop-color="#ffff00"/><stop offset="0.875" stop-color="#ff0000"/><stop offset="1" stop-color="#800000"/></linearGradient></defs>
<rect x="452.7" y="76" width="22.3" height="280.4" fill="url(#jet)" stroke="#666" stroke-width="0.5"/>
<line x1="475.00" y1="115.72" x2="477.80" y2="115.72" stroke="#000" stroke-width="1.3"/>
<text x="481.50" y="119.22" font-size="9.5" text-anchor="start" font-weight="bold" >2</text>
<line x1="475.00" y1="159.26" x2="477.80" y2="159.26" stroke="#000" stroke-width="1.3"/>
<text x="481.50" y="162.76" font-size="9.5" text-anchor="start" font-weight="bold" >1</text>
<line x1="475.00" y1="202.80" x2="477.80" y2="202.80" stroke="#000" stroke-width="1.3"/>
<text x="481.50" y="206.30" font-size="9.5" text-anchor="start" font-weight="bold" >0</text>
<line x1="475.00" y1="246.34" x2="477.80" y2="246.34" stroke="#000" stroke-width="1.3"/>
<text x="481.50" y="249.84" font-size="9.5" text-anchor="start" font-weight="bold" >-1</text>
<line x1="475.00" y1="289.88" x2="477.80" y2="289.88" stroke="#000" stroke-width="1.3"/>
<text x="481.50" y="293.38" font-size="9.5" text-anchor="start" font-weight="bold" >-2</text>
<line x1="475.00" y1="333.42" x2="477.80" y2="333.42" stroke="#000" stroke-width="1.3"/>
<text x="481.50" y="336.92" font-size="9.5" text-anchor="start" font-weight="bold" >-3</text>
<text x="475.4" y="71.6" font-size="12" font-weight="normal" fill="#444">&#215;</text>
<text x="482.20" y="71.40" font-size="10.5" text-anchor="start" font-weight="bold" >10</text>
<text x="493.40" y="67.20" font-size="7" text-anchor="start" font-weight="bold" >-3</text>
<text transform="translate(496.5,227) rotate(-90)" font-size="8" fill="#444">&#948;&#968;</text>
</svg></body></html>
